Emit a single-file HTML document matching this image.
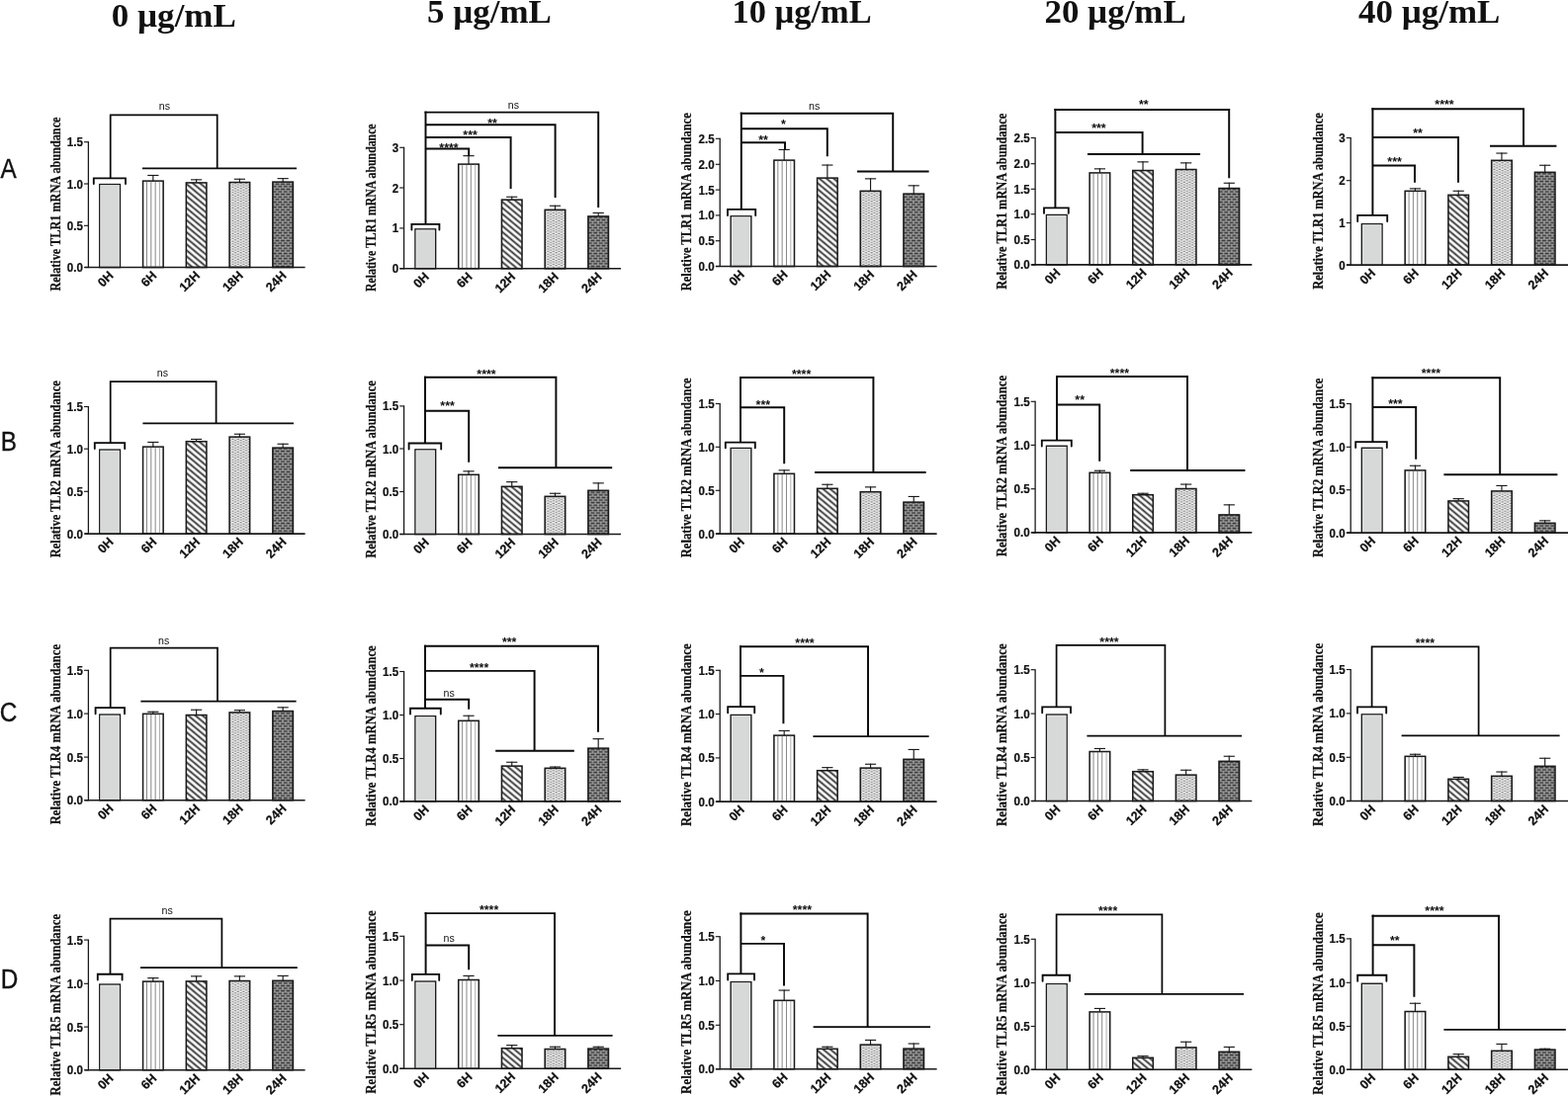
<!DOCTYPE html>
<html lang="en">
<head>
<meta charset="utf-8">
<title>Relative TLR mRNA abundance</title>
<style>
html,body{margin:0;padding:0;background:#fff;}
body{width:1586px;height:1109px;overflow:hidden;position:relative;}
svg{display:block;position:absolute;left:0;top:0;}
text{fill:#111;}
</style>
</head>
<body>
<svg width="1586" height="1109" viewBox="0 0 1586 1109">
<defs>
<pattern id="pd" patternUnits="userSpaceOnUse" width="12" height="4.67" patternTransform="rotate(40)">
<rect x="0" y="0" width="12" height="4.67" fill="#fff"/>
<rect x="0" y="1.5" width="12" height="1.8" fill="#2e2e2e"/>
</pattern>
<pattern id="pt" patternUnits="userSpaceOnUse" width="5.5" height="2.6">
<rect x="0" y="0" width="5.5" height="2.6" fill="#f1f1f1"/>
<rect x="0.45" y="0.2" width="2.2" height="0.95" fill="#6e6e6e"/>
<rect x="3.2" y="1.5" width="2.2" height="0.95" fill="#6e6e6e"/>
</pattern>
<pattern id="pb" patternUnits="userSpaceOnUse" width="5.5" height="5.2">
<rect x="0" y="0" width="5.5" height="5.2" fill="#e2e2e2"/>
<rect x="0.4" y="0.35" width="4.7" height="1.95" fill="#343434"/>
<rect x="0" y="2.95" width="2.35" height="1.95" fill="#343434"/>
<rect x="3.15" y="2.95" width="2.35" height="1.95" fill="#343434"/>
</pattern>
</defs>
<rect x="0" y="0" width="1586" height="1109" fill="#ffffff"/>

<text x="175.8" y="26.5" font-family='"Liberation Serif", serif' font-size="34.2" font-weight="bold" text-anchor="middle" textLength="126.2" lengthAdjust="spacingAndGlyphs">0 µg/mL</text>
<text x="494.95" y="23" font-family='"Liberation Serif", serif' font-size="34.2" font-weight="bold" text-anchor="middle" textLength="125.9" lengthAdjust="spacingAndGlyphs">5 µg/mL</text>
<text x="811.1" y="23.3" font-family='"Liberation Serif", serif' font-size="34.2" font-weight="bold" text-anchor="middle" textLength="141.2" lengthAdjust="spacingAndGlyphs">10 µg/mL</text>
<text x="1128.1" y="23.3" font-family='"Liberation Serif", serif' font-size="34.2" font-weight="bold" text-anchor="middle" textLength="143.2" lengthAdjust="spacingAndGlyphs">20 µg/mL</text>
<text x="1445.65" y="23.1" font-family='"Liberation Serif", serif' font-size="34.2" font-weight="bold" text-anchor="middle" textLength="143.3" lengthAdjust="spacingAndGlyphs">40 µg/mL</text>
<text transform="translate(0.6 179.9) scale(0.9 1)" font-family='"Liberation Sans", sans-serif' font-size="27" stroke="#111" stroke-width="0.35">A</text>
<text transform="translate(0.7 456) scale(0.9 1)" font-family='"Liberation Sans", sans-serif' font-size="27" stroke="#111" stroke-width="0.35">B</text>
<text transform="translate(-0.2 729.6) scale(0.9 1)" font-family='"Liberation Sans", sans-serif' font-size="27" stroke="#111" stroke-width="0.35">C</text>
<text transform="translate(0.7 1000.4) scale(0.9 1)" font-family='"Liberation Sans", sans-serif' font-size="27" stroke="#111" stroke-width="0.35">D</text>
<g transform="translate(0 0.3)">
<text transform="translate(60.6 206.2) rotate(-90)" font-family='"Liberation Serif", serif' font-size="14.3" font-weight="bold" text-anchor="middle" textLength="176" lengthAdjust="spacingAndGlyphs" stroke="#111" stroke-width="0.22">Relative TLR1 mRNA abundance</text>
<rect x="100.82" y="186.32" width="20.56" height="83.88" fill="#d7d9d8" stroke="#1a1a1a" stroke-width="1.55"/>
<rect x="101.8" y="187.3" width="18.6" height="82.3" fill="none" stroke="#f0f0f0" stroke-width="0.7"/>
<line x1="154.86" y1="176.6" x2="154.86" y2="182.7" stroke="#1a1a1a" stroke-width="1.15" stroke-linecap="butt"/>
<line x1="149.26" y1="177.15" x2="160.46" y2="177.15" stroke="#1a1a1a" stroke-width="1.15" stroke-linecap="butt"/>
<rect x="144.58" y="182.82" width="20.56" height="87.38" fill="url(#pv)" stroke="#1a1a1a" stroke-width="1.55"/>
<line x1="148.51" y1="183.4" x2="148.51" y2="269.6" stroke="#686868" stroke-width="0.8" stroke-linecap="butt"/>
<line x1="152.81" y1="183.4" x2="152.81" y2="269.6" stroke="#686868" stroke-width="0.8" stroke-linecap="butt"/>
<line x1="157.16" y1="183.4" x2="157.16" y2="269.6" stroke="#686868" stroke-width="0.8" stroke-linecap="butt"/>
<line x1="161.51" y1="183.4" x2="161.51" y2="269.6" stroke="#9a9a9a" stroke-width="0.8" stroke-linecap="butt"/>
<line x1="198.62" y1="181" x2="198.62" y2="184.5" stroke="#1a1a1a" stroke-width="1.15" stroke-linecap="butt"/>
<line x1="193.02" y1="181.55" x2="204.22" y2="181.55" stroke="#1a1a1a" stroke-width="1.15" stroke-linecap="butt"/>
<rect x="188.34" y="184.62" width="20.56" height="85.58" fill="url(#pd)" stroke="#1a1a1a" stroke-width="1.55"/>
<line x1="242.38" y1="180.4" x2="242.38" y2="184.1" stroke="#1a1a1a" stroke-width="1.15" stroke-linecap="butt"/>
<line x1="236.78" y1="180.95" x2="247.98" y2="180.95" stroke="#1a1a1a" stroke-width="1.15" stroke-linecap="butt"/>
<rect x="232.1" y="184.22" width="20.56" height="85.98" fill="url(#pt)" stroke="#1a1a1a" stroke-width="1.55"/>
<line x1="286.14" y1="179.8" x2="286.14" y2="183.7" stroke="#1a1a1a" stroke-width="1.15" stroke-linecap="butt"/>
<line x1="280.54" y1="180.35" x2="291.74" y2="180.35" stroke="#1a1a1a" stroke-width="1.15" stroke-linecap="butt"/>
<rect x="275.86" y="183.82" width="20.56" height="86.38" fill="url(#pb)" stroke="#1a1a1a" stroke-width="1.55"/>
<line x1="85.6" y1="270.2" x2="308.6" y2="270.2" stroke="#1a1a1a" stroke-width="1.6" stroke-linecap="butt"/>
<line x1="89.4" y1="142.85" x2="89.4" y2="270.8" stroke="#1a1a1a" stroke-width="1.3" stroke-linecap="butt"/>
<line x1="85" y1="143.4" x2="89.4" y2="143.4" stroke="#1a1a1a" stroke-width="1.15" stroke-linecap="butt"/>
<text transform="translate(83.9 147.9) scale(0.935 1)" font-family='"Liberation Sans", sans-serif' font-size="12.4" font-weight="bold" text-anchor="end" stroke="#111" stroke-width="0.2">1.5</text>
<line x1="85" y1="185.7" x2="89.4" y2="185.7" stroke="#1a1a1a" stroke-width="1.15" stroke-linecap="butt"/>
<text transform="translate(83.9 190.2) scale(0.935 1)" font-family='"Liberation Sans", sans-serif' font-size="12.4" font-weight="bold" text-anchor="end" stroke="#111" stroke-width="0.2">1.0</text>
<line x1="85" y1="228" x2="89.4" y2="228" stroke="#1a1a1a" stroke-width="1.15" stroke-linecap="butt"/>
<text transform="translate(83.9 232.5) scale(0.935 1)" font-family='"Liberation Sans", sans-serif' font-size="12.4" font-weight="bold" text-anchor="end" stroke="#111" stroke-width="0.2">0.5</text>
<line x1="85" y1="270.2" x2="89.4" y2="270.2" stroke="#1a1a1a" stroke-width="1.15" stroke-linecap="butt"/>
<text transform="translate(83.9 274.7) scale(0.935 1)" font-family='"Liberation Sans", sans-serif' font-size="12.4" font-weight="bold" text-anchor="end" stroke="#111" stroke-width="0.2">0.0</text>
<text transform="translate(115.4 279.2) rotate(-45)" font-family='"Liberation Sans", sans-serif' font-size="12.6" font-weight="bold" text-anchor="end" stroke="#111" stroke-width="0.25">0H</text>
<text transform="translate(159.16 279.2) rotate(-45)" font-family='"Liberation Sans", sans-serif' font-size="12.6" font-weight="bold" text-anchor="end" stroke="#111" stroke-width="0.25">6H</text>
<text transform="translate(202.92 279.2) rotate(-45)" font-family='"Liberation Sans", sans-serif' font-size="12.6" font-weight="bold" text-anchor="end" stroke="#111" stroke-width="0.25">12H</text>
<text transform="translate(246.68 279.2) rotate(-45)" font-family='"Liberation Sans", sans-serif' font-size="12.6" font-weight="bold" text-anchor="end" stroke="#111" stroke-width="0.25">18H</text>
<text transform="translate(290.44 279.2) rotate(-45)" font-family='"Liberation Sans", sans-serif' font-size="12.6" font-weight="bold" text-anchor="end" stroke="#111" stroke-width="0.25">24H</text>
<polyline points="94.8,185.8 94.8,180.1 127,180.1 127,185.8" fill="none" stroke="#0a0a0a" stroke-width="1.85" stroke-linecap="round" stroke-linejoin="miter"/>
<polyline points="111.7,180.1 111.7,116 219.7,116 219.7,170" fill="none" stroke="#0a0a0a" stroke-width="1.75" stroke-linecap="butt" stroke-linejoin="miter"/>
<polyline points="144,170 300,170" fill="none" stroke="#0a0a0a" stroke-width="1.75" stroke-linecap="butt" stroke-linejoin="miter"/>
<text x="166.4" y="110.6" font-family='"Liberation Sans", sans-serif' font-size="10.6" font-weight="normal" text-anchor="middle" fill="#333">ns</text>
</g>
<g transform="translate(0 0.3)">
<text transform="translate(379.9 209.9) rotate(-90)" font-family='"Liberation Serif", serif' font-size="14.3" font-weight="bold" text-anchor="middle" textLength="169.6" lengthAdjust="spacingAndGlyphs" stroke="#111" stroke-width="0.22">Relative TLR1 mRNA abundance</text>
<rect x="420.02" y="231.62" width="20.56" height="39.78" fill="#d7d9d8" stroke="#1a1a1a" stroke-width="1.55"/>
<rect x="421" y="232.6" width="18.6" height="38.2" fill="none" stroke="#f0f0f0" stroke-width="0.7"/>
<line x1="474.02" y1="156.8" x2="474.02" y2="165.7" stroke="#1a1a1a" stroke-width="1.15" stroke-linecap="butt"/>
<line x1="468.42" y1="157.35" x2="479.62" y2="157.35" stroke="#1a1a1a" stroke-width="1.15" stroke-linecap="butt"/>
<rect x="463.74" y="165.82" width="20.56" height="105.58" fill="url(#pv)" stroke="#1a1a1a" stroke-width="1.55"/>
<line x1="467.67" y1="166.4" x2="467.67" y2="270.8" stroke="#686868" stroke-width="0.8" stroke-linecap="butt"/>
<line x1="471.97" y1="166.4" x2="471.97" y2="270.8" stroke="#686868" stroke-width="0.8" stroke-linecap="butt"/>
<line x1="476.32" y1="166.4" x2="476.32" y2="270.8" stroke="#686868" stroke-width="0.8" stroke-linecap="butt"/>
<line x1="480.67" y1="166.4" x2="480.67" y2="270.8" stroke="#9a9a9a" stroke-width="0.8" stroke-linecap="butt"/>
<line x1="517.74" y1="198.4" x2="517.74" y2="201.7" stroke="#1a1a1a" stroke-width="1.15" stroke-linecap="butt"/>
<line x1="512.14" y1="198.95" x2="523.34" y2="198.95" stroke="#1a1a1a" stroke-width="1.15" stroke-linecap="butt"/>
<rect x="507.46" y="201.82" width="20.56" height="69.58" fill="url(#pd)" stroke="#1a1a1a" stroke-width="1.55"/>
<line x1="561.46" y1="207.4" x2="561.46" y2="211.9" stroke="#1a1a1a" stroke-width="1.15" stroke-linecap="butt"/>
<line x1="555.86" y1="207.95" x2="567.06" y2="207.95" stroke="#1a1a1a" stroke-width="1.15" stroke-linecap="butt"/>
<rect x="551.18" y="212.02" width="20.56" height="59.38" fill="url(#pt)" stroke="#1a1a1a" stroke-width="1.55"/>
<line x1="605.18" y1="214.6" x2="605.18" y2="218.5" stroke="#1a1a1a" stroke-width="1.15" stroke-linecap="butt"/>
<line x1="599.58" y1="215.15" x2="610.78" y2="215.15" stroke="#1a1a1a" stroke-width="1.15" stroke-linecap="butt"/>
<rect x="594.9" y="218.62" width="20.56" height="52.78" fill="url(#pb)" stroke="#1a1a1a" stroke-width="1.55"/>
<line x1="404.4" y1="271.4" x2="628" y2="271.4" stroke="#1a1a1a" stroke-width="1.6" stroke-linecap="butt"/>
<line x1="408.6" y1="148.45" x2="408.6" y2="272" stroke="#1a1a1a" stroke-width="1.3" stroke-linecap="butt"/>
<line x1="404.2" y1="149" x2="408.6" y2="149" stroke="#1a1a1a" stroke-width="1.15" stroke-linecap="butt"/>
<text transform="translate(403.1 153.5) scale(0.935 1)" font-family='"Liberation Sans", sans-serif' font-size="12.4" font-weight="bold" text-anchor="end" stroke="#111" stroke-width="0.2">3</text>
<line x1="404.2" y1="189.7" x2="408.6" y2="189.7" stroke="#1a1a1a" stroke-width="1.15" stroke-linecap="butt"/>
<text transform="translate(403.1 194.2) scale(0.935 1)" font-family='"Liberation Sans", sans-serif' font-size="12.4" font-weight="bold" text-anchor="end" stroke="#111" stroke-width="0.2">2</text>
<line x1="404.2" y1="230.6" x2="408.6" y2="230.6" stroke="#1a1a1a" stroke-width="1.15" stroke-linecap="butt"/>
<text transform="translate(403.1 235.1) scale(0.935 1)" font-family='"Liberation Sans", sans-serif' font-size="12.4" font-weight="bold" text-anchor="end" stroke="#111" stroke-width="0.2">1</text>
<line x1="404.2" y1="271.4" x2="408.6" y2="271.4" stroke="#1a1a1a" stroke-width="1.15" stroke-linecap="butt"/>
<text transform="translate(403.1 275.9) scale(0.935 1)" font-family='"Liberation Sans", sans-serif' font-size="12.4" font-weight="bold" text-anchor="end" stroke="#111" stroke-width="0.2">0</text>
<text transform="translate(434.6 280.4) rotate(-45)" font-family='"Liberation Sans", sans-serif' font-size="12.6" font-weight="bold" text-anchor="end" stroke="#111" stroke-width="0.25">0H</text>
<text transform="translate(478.32 280.4) rotate(-45)" font-family='"Liberation Sans", sans-serif' font-size="12.6" font-weight="bold" text-anchor="end" stroke="#111" stroke-width="0.25">6H</text>
<text transform="translate(522.04 280.4) rotate(-45)" font-family='"Liberation Sans", sans-serif' font-size="12.6" font-weight="bold" text-anchor="end" stroke="#111" stroke-width="0.25">12H</text>
<text transform="translate(565.76 280.4) rotate(-45)" font-family='"Liberation Sans", sans-serif' font-size="12.6" font-weight="bold" text-anchor="end" stroke="#111" stroke-width="0.25">18H</text>
<text transform="translate(609.48 280.4) rotate(-45)" font-family='"Liberation Sans", sans-serif' font-size="12.6" font-weight="bold" text-anchor="end" stroke="#111" stroke-width="0.25">24H</text>
<polyline points="416.4,232.2 416.4,226.6 444.4,226.6 444.4,232.2" fill="none" stroke="#0a0a0a" stroke-width="1.85" stroke-linecap="round" stroke-linejoin="miter"/>
<polyline points="430.5,226.6 430.5,112.3" fill="none" stroke="#0a0a0a" stroke-width="1.95" stroke-linecap="butt" stroke-linejoin="miter"/>
<polyline points="429.5,113.3 605.2,113.3 605.2,209.6" fill="none" stroke="#0a0a0a" stroke-width="1.95" stroke-linecap="butt" stroke-linejoin="miter"/>
<polyline points="430.5,126 561.6,126 561.6,199.6" fill="none" stroke="#0a0a0a" stroke-width="1.95" stroke-linecap="butt" stroke-linejoin="miter"/>
<polyline points="430.5,138.6 516.6,138.6 516.6,190.6" fill="none" stroke="#0a0a0a" stroke-width="1.95" stroke-linecap="butt" stroke-linejoin="miter"/>
<polyline points="430.5,150.2 474.2,150.2 474.2,157.5" fill="none" stroke="#0a0a0a" stroke-width="1.95" stroke-linecap="butt" stroke-linejoin="miter"/>
<text x="519.4" y="110" font-family='"Liberation Sans", sans-serif' font-size="10.6" font-weight="normal" text-anchor="middle" fill="#333">ns</text>
<text x="498" y="128.3" font-family='"Liberation Sans", sans-serif' font-size="12.4" font-weight="bold" text-anchor="middle" fill="#1a1a1a">**</text>
<text x="475.6" y="140.3" font-family='"Liberation Sans", sans-serif' font-size="12.4" font-weight="bold" text-anchor="middle" fill="#1a1a1a">***</text>
<text x="454" y="153.9" font-family='"Liberation Sans", sans-serif' font-size="12.4" font-weight="bold" text-anchor="middle" fill="#1a1a1a">****</text>
</g>
<g transform="translate(0 0.3)">
<text transform="translate(699.2 204) rotate(-90)" font-family='"Liberation Serif", serif' font-size="14.3" font-weight="bold" text-anchor="middle" textLength="180" lengthAdjust="spacingAndGlyphs" stroke="#111" stroke-width="0.22">Relative TLR1 mRNA abundance</text>
<rect x="739.22" y="218.52" width="20.56" height="50.68" fill="#d7d9d8" stroke="#1a1a1a" stroke-width="1.55"/>
<rect x="740.2" y="219.5" width="18.6" height="49.1" fill="none" stroke="#f0f0f0" stroke-width="0.7"/>
<line x1="793.18" y1="150.6" x2="793.18" y2="161.7" stroke="#1a1a1a" stroke-width="1.15" stroke-linecap="butt"/>
<line x1="787.58" y1="151.15" x2="798.78" y2="151.15" stroke="#1a1a1a" stroke-width="1.15" stroke-linecap="butt"/>
<rect x="782.9" y="161.82" width="20.56" height="107.38" fill="url(#pv)" stroke="#1a1a1a" stroke-width="1.55"/>
<line x1="786.83" y1="162.4" x2="786.83" y2="268.6" stroke="#686868" stroke-width="0.8" stroke-linecap="butt"/>
<line x1="791.13" y1="162.4" x2="791.13" y2="268.6" stroke="#686868" stroke-width="0.8" stroke-linecap="butt"/>
<line x1="795.48" y1="162.4" x2="795.48" y2="268.6" stroke="#686868" stroke-width="0.8" stroke-linecap="butt"/>
<line x1="799.83" y1="162.4" x2="799.83" y2="268.6" stroke="#9a9a9a" stroke-width="0.8" stroke-linecap="butt"/>
<line x1="836.86" y1="166.2" x2="836.86" y2="179.7" stroke="#1a1a1a" stroke-width="1.15" stroke-linecap="butt"/>
<line x1="831.26" y1="166.75" x2="842.46" y2="166.75" stroke="#1a1a1a" stroke-width="1.15" stroke-linecap="butt"/>
<rect x="826.58" y="179.82" width="20.56" height="89.38" fill="url(#pd)" stroke="#1a1a1a" stroke-width="1.55"/>
<line x1="880.54" y1="180" x2="880.54" y2="192.9" stroke="#1a1a1a" stroke-width="1.15" stroke-linecap="butt"/>
<line x1="874.94" y1="180.55" x2="886.14" y2="180.55" stroke="#1a1a1a" stroke-width="1.15" stroke-linecap="butt"/>
<rect x="870.26" y="193.02" width="20.56" height="76.18" fill="url(#pt)" stroke="#1a1a1a" stroke-width="1.55"/>
<line x1="924.22" y1="187" x2="924.22" y2="195.7" stroke="#1a1a1a" stroke-width="1.15" stroke-linecap="butt"/>
<line x1="918.62" y1="187.55" x2="929.82" y2="187.55" stroke="#1a1a1a" stroke-width="1.15" stroke-linecap="butt"/>
<rect x="913.94" y="195.82" width="20.56" height="73.38" fill="url(#pb)" stroke="#1a1a1a" stroke-width="1.55"/>
<line x1="724" y1="269.2" x2="947.6" y2="269.2" stroke="#1a1a1a" stroke-width="1.6" stroke-linecap="butt"/>
<line x1="728.2" y1="139.45" x2="728.2" y2="269.8" stroke="#1a1a1a" stroke-width="1.3" stroke-linecap="butt"/>
<line x1="723.8" y1="140" x2="728.2" y2="140" stroke="#1a1a1a" stroke-width="1.15" stroke-linecap="butt"/>
<text transform="translate(722.7 144.5) scale(0.935 1)" font-family='"Liberation Sans", sans-serif' font-size="12.4" font-weight="bold" text-anchor="end" stroke="#111" stroke-width="0.2">2.5</text>
<line x1="723.8" y1="166" x2="728.2" y2="166" stroke="#1a1a1a" stroke-width="1.15" stroke-linecap="butt"/>
<text transform="translate(722.7 170.5) scale(0.935 1)" font-family='"Liberation Sans", sans-serif' font-size="12.4" font-weight="bold" text-anchor="end" stroke="#111" stroke-width="0.2">2.0</text>
<line x1="723.8" y1="191.8" x2="728.2" y2="191.8" stroke="#1a1a1a" stroke-width="1.15" stroke-linecap="butt"/>
<text transform="translate(722.7 196.3) scale(0.935 1)" font-family='"Liberation Sans", sans-serif' font-size="12.4" font-weight="bold" text-anchor="end" stroke="#111" stroke-width="0.2">1.5</text>
<line x1="723.8" y1="217.6" x2="728.2" y2="217.6" stroke="#1a1a1a" stroke-width="1.15" stroke-linecap="butt"/>
<text transform="translate(722.7 222.1) scale(0.935 1)" font-family='"Liberation Sans", sans-serif' font-size="12.4" font-weight="bold" text-anchor="end" stroke="#111" stroke-width="0.2">1.0</text>
<line x1="723.8" y1="243.4" x2="728.2" y2="243.4" stroke="#1a1a1a" stroke-width="1.15" stroke-linecap="butt"/>
<text transform="translate(722.7 247.9) scale(0.935 1)" font-family='"Liberation Sans", sans-serif' font-size="12.4" font-weight="bold" text-anchor="end" stroke="#111" stroke-width="0.2">0.5</text>
<line x1="723.8" y1="269.2" x2="728.2" y2="269.2" stroke="#1a1a1a" stroke-width="1.15" stroke-linecap="butt"/>
<text transform="translate(722.7 273.7) scale(0.935 1)" font-family='"Liberation Sans", sans-serif' font-size="12.4" font-weight="bold" text-anchor="end" stroke="#111" stroke-width="0.2">0.0</text>
<text transform="translate(753.8 278.2) rotate(-45)" font-family='"Liberation Sans", sans-serif' font-size="12.6" font-weight="bold" text-anchor="end" stroke="#111" stroke-width="0.25">0H</text>
<text transform="translate(797.48 278.2) rotate(-45)" font-family='"Liberation Sans", sans-serif' font-size="12.6" font-weight="bold" text-anchor="end" stroke="#111" stroke-width="0.25">6H</text>
<text transform="translate(841.16 278.2) rotate(-45)" font-family='"Liberation Sans", sans-serif' font-size="12.6" font-weight="bold" text-anchor="end" stroke="#111" stroke-width="0.25">12H</text>
<text transform="translate(884.84 278.2) rotate(-45)" font-family='"Liberation Sans", sans-serif' font-size="12.6" font-weight="bold" text-anchor="end" stroke="#111" stroke-width="0.25">18H</text>
<text transform="translate(928.52 278.2) rotate(-45)" font-family='"Liberation Sans", sans-serif' font-size="12.6" font-weight="bold" text-anchor="end" stroke="#111" stroke-width="0.25">24H</text>
<polyline points="736,217.8 736,211.6 764.2,211.6 764.2,217.8" fill="none" stroke="#0a0a0a" stroke-width="1.85" stroke-linecap="round" stroke-linejoin="miter"/>
<polyline points="749.8,211.6 749.8,113.4" fill="none" stroke="#0a0a0a" stroke-width="1.95" stroke-linecap="butt" stroke-linejoin="miter"/>
<polyline points="748.8,114.4 903.2,114.4 903.2,173.2" fill="none" stroke="#0a0a0a" stroke-width="1.95" stroke-linecap="butt" stroke-linejoin="miter"/>
<polyline points="867,173.2 939.6,173.2" fill="none" stroke="#0a0a0a" stroke-width="1.95" stroke-linecap="butt" stroke-linejoin="miter"/>
<polyline points="749.8,130 836.8,130 836.8,158" fill="none" stroke="#0a0a0a" stroke-width="1.95" stroke-linecap="butt" stroke-linejoin="miter"/>
<polyline points="749.8,144 794,144 794,151.3" fill="none" stroke="#0a0a0a" stroke-width="1.95" stroke-linecap="butt" stroke-linejoin="miter"/>
<text x="823.6" y="110.6" font-family='"Liberation Sans", sans-serif' font-size="10.6" font-weight="normal" text-anchor="middle" fill="#333">ns</text>
<text x="792.4" y="130.1" font-family='"Liberation Sans", sans-serif' font-size="12.4" font-weight="bold" text-anchor="middle" fill="#1a1a1a">*</text>
<text x="772" y="145.3" font-family='"Liberation Sans", sans-serif' font-size="12.4" font-weight="bold" text-anchor="middle" fill="#1a1a1a">**</text>
</g>
<g transform="translate(0 0.3)">
<text transform="translate(1018.2 203.4) rotate(-90)" font-family='"Liberation Serif", serif' font-size="14.3" font-weight="bold" text-anchor="middle" textLength="178" lengthAdjust="spacingAndGlyphs" stroke="#111" stroke-width="0.22">Relative TLR1 mRNA abundance</text>
<rect x="1058.52" y="217.22" width="20.56" height="50.38" fill="#d7d9d8" stroke="#1a1a1a" stroke-width="1.55"/>
<rect x="1059.5" y="218.2" width="18.6" height="48.8" fill="none" stroke="#f0f0f0" stroke-width="0.7"/>
<line x1="1112.42" y1="170" x2="1112.42" y2="174.5" stroke="#1a1a1a" stroke-width="1.15" stroke-linecap="butt"/>
<line x1="1106.82" y1="170.55" x2="1118.02" y2="170.55" stroke="#1a1a1a" stroke-width="1.15" stroke-linecap="butt"/>
<rect x="1102.14" y="174.62" width="20.56" height="92.98" fill="url(#pv)" stroke="#1a1a1a" stroke-width="1.55"/>
<line x1="1106.07" y1="175.2" x2="1106.07" y2="267" stroke="#686868" stroke-width="0.8" stroke-linecap="butt"/>
<line x1="1110.37" y1="175.2" x2="1110.37" y2="267" stroke="#686868" stroke-width="0.8" stroke-linecap="butt"/>
<line x1="1114.72" y1="175.2" x2="1114.72" y2="267" stroke="#686868" stroke-width="0.8" stroke-linecap="butt"/>
<line x1="1119.07" y1="175.2" x2="1119.07" y2="267" stroke="#9a9a9a" stroke-width="0.8" stroke-linecap="butt"/>
<line x1="1156.04" y1="163" x2="1156.04" y2="172.1" stroke="#1a1a1a" stroke-width="1.15" stroke-linecap="butt"/>
<line x1="1150.44" y1="163.55" x2="1161.64" y2="163.55" stroke="#1a1a1a" stroke-width="1.15" stroke-linecap="butt"/>
<rect x="1145.76" y="172.22" width="20.56" height="95.38" fill="url(#pd)" stroke="#1a1a1a" stroke-width="1.55"/>
<line x1="1199.66" y1="164" x2="1199.66" y2="171.1" stroke="#1a1a1a" stroke-width="1.15" stroke-linecap="butt"/>
<line x1="1194.06" y1="164.55" x2="1205.26" y2="164.55" stroke="#1a1a1a" stroke-width="1.15" stroke-linecap="butt"/>
<rect x="1189.38" y="171.22" width="20.56" height="96.38" fill="url(#pt)" stroke="#1a1a1a" stroke-width="1.55"/>
<line x1="1243.28" y1="184.4" x2="1243.28" y2="190.1" stroke="#1a1a1a" stroke-width="1.15" stroke-linecap="butt"/>
<line x1="1237.68" y1="184.95" x2="1248.88" y2="184.95" stroke="#1a1a1a" stroke-width="1.15" stroke-linecap="butt"/>
<rect x="1233" y="190.22" width="20.56" height="77.38" fill="url(#pb)" stroke="#1a1a1a" stroke-width="1.55"/>
<line x1="1043.2" y1="267.6" x2="1266.3" y2="267.6" stroke="#1a1a1a" stroke-width="1.6" stroke-linecap="butt"/>
<line x1="1047.1" y1="138.65" x2="1047.1" y2="268.2" stroke="#1a1a1a" stroke-width="1.3" stroke-linecap="butt"/>
<line x1="1042.7" y1="139.2" x2="1047.1" y2="139.2" stroke="#1a1a1a" stroke-width="1.15" stroke-linecap="butt"/>
<text transform="translate(1041.6 143.7) scale(0.935 1)" font-family='"Liberation Sans", sans-serif' font-size="12.4" font-weight="bold" text-anchor="end" stroke="#111" stroke-width="0.2">2.5</text>
<line x1="1042.7" y1="165.4" x2="1047.1" y2="165.4" stroke="#1a1a1a" stroke-width="1.15" stroke-linecap="butt"/>
<text transform="translate(1041.6 169.9) scale(0.935 1)" font-family='"Liberation Sans", sans-serif' font-size="12.4" font-weight="bold" text-anchor="end" stroke="#111" stroke-width="0.2">2.0</text>
<line x1="1042.7" y1="191" x2="1047.1" y2="191" stroke="#1a1a1a" stroke-width="1.15" stroke-linecap="butt"/>
<text transform="translate(1041.6 195.5) scale(0.935 1)" font-family='"Liberation Sans", sans-serif' font-size="12.4" font-weight="bold" text-anchor="end" stroke="#111" stroke-width="0.2">1.5</text>
<line x1="1042.7" y1="216.4" x2="1047.1" y2="216.4" stroke="#1a1a1a" stroke-width="1.15" stroke-linecap="butt"/>
<text transform="translate(1041.6 220.9) scale(0.935 1)" font-family='"Liberation Sans", sans-serif' font-size="12.4" font-weight="bold" text-anchor="end" stroke="#111" stroke-width="0.2">1.0</text>
<line x1="1042.7" y1="242.2" x2="1047.1" y2="242.2" stroke="#1a1a1a" stroke-width="1.15" stroke-linecap="butt"/>
<text transform="translate(1041.6 246.7) scale(0.935 1)" font-family='"Liberation Sans", sans-serif' font-size="12.4" font-weight="bold" text-anchor="end" stroke="#111" stroke-width="0.2">0.5</text>
<line x1="1042.7" y1="267.6" x2="1047.1" y2="267.6" stroke="#1a1a1a" stroke-width="1.15" stroke-linecap="butt"/>
<text transform="translate(1041.6 272.1) scale(0.935 1)" font-family='"Liberation Sans", sans-serif' font-size="12.4" font-weight="bold" text-anchor="end" stroke="#111" stroke-width="0.2">0.0</text>
<text transform="translate(1073.1 276.6) rotate(-45)" font-family='"Liberation Sans", sans-serif' font-size="12.6" font-weight="bold" text-anchor="end" stroke="#111" stroke-width="0.25">0H</text>
<text transform="translate(1116.72 276.6) rotate(-45)" font-family='"Liberation Sans", sans-serif' font-size="12.6" font-weight="bold" text-anchor="end" stroke="#111" stroke-width="0.25">6H</text>
<text transform="translate(1160.34 276.6) rotate(-45)" font-family='"Liberation Sans", sans-serif' font-size="12.6" font-weight="bold" text-anchor="end" stroke="#111" stroke-width="0.25">12H</text>
<text transform="translate(1203.96 276.6) rotate(-45)" font-family='"Liberation Sans", sans-serif' font-size="12.6" font-weight="bold" text-anchor="end" stroke="#111" stroke-width="0.25">18H</text>
<text transform="translate(1247.58 276.6) rotate(-45)" font-family='"Liberation Sans", sans-serif' font-size="12.6" font-weight="bold" text-anchor="end" stroke="#111" stroke-width="0.25">24H</text>
<polyline points="1056,215.4 1056,210 1080.8,210 1080.8,215.4" fill="none" stroke="#0a0a0a" stroke-width="1.85" stroke-linecap="round" stroke-linejoin="miter"/>
<polyline points="1067.4,210 1067.4,109.6" fill="none" stroke="#0a0a0a" stroke-width="1.95" stroke-linecap="butt" stroke-linejoin="miter"/>
<polyline points="1066.4,110.6 1243.2,110.6 1243.2,180" fill="none" stroke="#0a0a0a" stroke-width="1.95" stroke-linecap="butt" stroke-linejoin="miter"/>
<polyline points="1067.4,133.6 1155.6,133.6 1155.6,155.6" fill="none" stroke="#0a0a0a" stroke-width="1.95" stroke-linecap="butt" stroke-linejoin="miter"/>
<polyline points="1100,155.6 1214,155.6" fill="none" stroke="#0a0a0a" stroke-width="1.95" stroke-linecap="butt" stroke-linejoin="miter"/>
<text x="1156.8" y="109.9" font-family='"Liberation Sans", sans-serif' font-size="12.4" font-weight="bold" text-anchor="middle" fill="#1a1a1a">**</text>
<text x="1111.4" y="133.9" font-family='"Liberation Sans", sans-serif' font-size="12.4" font-weight="bold" text-anchor="middle" fill="#1a1a1a">***</text>
</g>
<g transform="translate(0 0.3)">
<text transform="translate(1337.6 203.2) rotate(-90)" font-family='"Liberation Serif", serif' font-size="14.3" font-weight="bold" text-anchor="middle" textLength="178.4" lengthAdjust="spacingAndGlyphs" stroke="#111" stroke-width="0.22">Relative TLR1 mRNA abundance</text>
<rect x="1377.42" y="226.42" width="20.56" height="41.38" fill="#d7d9d8" stroke="#1a1a1a" stroke-width="1.55"/>
<rect x="1378.4" y="227.4" width="18.6" height="39.8" fill="none" stroke="#f0f0f0" stroke-width="0.7"/>
<line x1="1431.45" y1="190" x2="1431.45" y2="192.9" stroke="#1a1a1a" stroke-width="1.15" stroke-linecap="butt"/>
<line x1="1425.85" y1="190.55" x2="1437.05" y2="190.55" stroke="#1a1a1a" stroke-width="1.15" stroke-linecap="butt"/>
<rect x="1421.17" y="193.02" width="20.56" height="74.78" fill="url(#pv)" stroke="#1a1a1a" stroke-width="1.55"/>
<line x1="1425.1" y1="193.6" x2="1425.1" y2="267.2" stroke="#686868" stroke-width="0.8" stroke-linecap="butt"/>
<line x1="1429.4" y1="193.6" x2="1429.4" y2="267.2" stroke="#686868" stroke-width="0.8" stroke-linecap="butt"/>
<line x1="1433.75" y1="193.6" x2="1433.75" y2="267.2" stroke="#686868" stroke-width="0.8" stroke-linecap="butt"/>
<line x1="1438.1" y1="193.6" x2="1438.1" y2="267.2" stroke="#9a9a9a" stroke-width="0.8" stroke-linecap="butt"/>
<line x1="1475.2" y1="192.4" x2="1475.2" y2="196.9" stroke="#1a1a1a" stroke-width="1.15" stroke-linecap="butt"/>
<line x1="1469.6" y1="192.95" x2="1480.8" y2="192.95" stroke="#1a1a1a" stroke-width="1.15" stroke-linecap="butt"/>
<rect x="1464.92" y="197.02" width="20.56" height="70.78" fill="url(#pd)" stroke="#1a1a1a" stroke-width="1.55"/>
<line x1="1518.95" y1="154.2" x2="1518.95" y2="161.9" stroke="#1a1a1a" stroke-width="1.15" stroke-linecap="butt"/>
<line x1="1513.35" y1="154.75" x2="1524.55" y2="154.75" stroke="#1a1a1a" stroke-width="1.15" stroke-linecap="butt"/>
<rect x="1508.67" y="162.02" width="20.56" height="105.78" fill="url(#pt)" stroke="#1a1a1a" stroke-width="1.55"/>
<line x1="1562.7" y1="166.4" x2="1562.7" y2="173.9" stroke="#1a1a1a" stroke-width="1.15" stroke-linecap="butt"/>
<line x1="1557.1" y1="166.95" x2="1568.3" y2="166.95" stroke="#1a1a1a" stroke-width="1.15" stroke-linecap="butt"/>
<rect x="1552.42" y="174.02" width="20.56" height="93.78" fill="url(#pb)" stroke="#1a1a1a" stroke-width="1.55"/>
<line x1="1362" y1="267.8" x2="1586.5" y2="267.8" stroke="#1a1a1a" stroke-width="1.6" stroke-linecap="butt"/>
<line x1="1366.2" y1="138.65" x2="1366.2" y2="268.4" stroke="#1a1a1a" stroke-width="1.3" stroke-linecap="butt"/>
<line x1="1361.8" y1="139.2" x2="1366.2" y2="139.2" stroke="#1a1a1a" stroke-width="1.15" stroke-linecap="butt"/>
<text transform="translate(1360.7 143.7) scale(0.935 1)" font-family='"Liberation Sans", sans-serif' font-size="12.4" font-weight="bold" text-anchor="end" stroke="#111" stroke-width="0.2">3</text>
<line x1="1361.8" y1="182.4" x2="1366.2" y2="182.4" stroke="#1a1a1a" stroke-width="1.15" stroke-linecap="butt"/>
<text transform="translate(1360.7 186.9) scale(0.935 1)" font-family='"Liberation Sans", sans-serif' font-size="12.4" font-weight="bold" text-anchor="end" stroke="#111" stroke-width="0.2">2</text>
<line x1="1361.8" y1="225.2" x2="1366.2" y2="225.2" stroke="#1a1a1a" stroke-width="1.15" stroke-linecap="butt"/>
<text transform="translate(1360.7 229.7) scale(0.935 1)" font-family='"Liberation Sans", sans-serif' font-size="12.4" font-weight="bold" text-anchor="end" stroke="#111" stroke-width="0.2">1</text>
<line x1="1361.8" y1="267.8" x2="1366.2" y2="267.8" stroke="#1a1a1a" stroke-width="1.15" stroke-linecap="butt"/>
<text transform="translate(1360.7 272.3) scale(0.935 1)" font-family='"Liberation Sans", sans-serif' font-size="12.4" font-weight="bold" text-anchor="end" stroke="#111" stroke-width="0.2">0</text>
<text transform="translate(1392 276.8) rotate(-45)" font-family='"Liberation Sans", sans-serif' font-size="12.6" font-weight="bold" text-anchor="end" stroke="#111" stroke-width="0.25">0H</text>
<text transform="translate(1435.75 276.8) rotate(-45)" font-family='"Liberation Sans", sans-serif' font-size="12.6" font-weight="bold" text-anchor="end" stroke="#111" stroke-width="0.25">6H</text>
<text transform="translate(1479.5 276.8) rotate(-45)" font-family='"Liberation Sans", sans-serif' font-size="12.6" font-weight="bold" text-anchor="end" stroke="#111" stroke-width="0.25">12H</text>
<text transform="translate(1523.25 276.8) rotate(-45)" font-family='"Liberation Sans", sans-serif' font-size="12.6" font-weight="bold" text-anchor="end" stroke="#111" stroke-width="0.25">18H</text>
<text transform="translate(1567 276.8) rotate(-45)" font-family='"Liberation Sans", sans-serif' font-size="12.6" font-weight="bold" text-anchor="end" stroke="#111" stroke-width="0.25">24H</text>
<polyline points="1373.2,223.8 1373.2,217.6 1403.2,217.6 1403.2,223.8" fill="none" stroke="#0a0a0a" stroke-width="1.85" stroke-linecap="round" stroke-linejoin="miter"/>
<polyline points="1388.4,217.6 1388.4,109" fill="none" stroke="#0a0a0a" stroke-width="1.95" stroke-linecap="butt" stroke-linejoin="miter"/>
<polyline points="1387.4,110 1541,110 1541,147.4" fill="none" stroke="#0a0a0a" stroke-width="1.95" stroke-linecap="butt" stroke-linejoin="miter"/>
<polyline points="1507,147.4 1574.4,147.4" fill="none" stroke="#0a0a0a" stroke-width="1.95" stroke-linecap="butt" stroke-linejoin="miter"/>
<polyline points="1388.4,138.6 1475,138.6 1475,184.4" fill="none" stroke="#0a0a0a" stroke-width="1.95" stroke-linecap="butt" stroke-linejoin="miter"/>
<polyline points="1388.4,167.2 1431,167.2 1431,184.4" fill="none" stroke="#0a0a0a" stroke-width="1.95" stroke-linecap="butt" stroke-linejoin="miter"/>
<text x="1461" y="109.9" font-family='"Liberation Sans", sans-serif' font-size="12.4" font-weight="bold" text-anchor="middle" fill="#1a1a1a">****</text>
<text x="1434" y="138.7" font-family='"Liberation Sans", sans-serif' font-size="12.4" font-weight="bold" text-anchor="middle" fill="#1a1a1a">**</text>
<text x="1410.6" y="167.7" font-family='"Liberation Sans", sans-serif' font-size="12.4" font-weight="bold" text-anchor="middle" fill="#1a1a1a">***</text>
</g>
<g transform="translate(0 0.3)">
<text transform="translate(60.6 474.5) rotate(-90)" font-family='"Liberation Serif", serif' font-size="14.3" font-weight="bold" text-anchor="middle" textLength="179" lengthAdjust="spacingAndGlyphs" stroke="#111" stroke-width="0.22">Relative TLR2 mRNA abundance</text>
<rect x="100.82" y="454.82" width="20.56" height="84.98" fill="#d7d9d8" stroke="#1a1a1a" stroke-width="1.55"/>
<rect x="101.8" y="455.8" width="18.6" height="83.4" fill="none" stroke="#f0f0f0" stroke-width="0.7"/>
<line x1="154.86" y1="446.6" x2="154.86" y2="451.7" stroke="#1a1a1a" stroke-width="1.15" stroke-linecap="butt"/>
<line x1="149.26" y1="447.15" x2="160.46" y2="447.15" stroke="#1a1a1a" stroke-width="1.15" stroke-linecap="butt"/>
<rect x="144.58" y="451.82" width="20.56" height="87.98" fill="url(#pv)" stroke="#1a1a1a" stroke-width="1.55"/>
<line x1="148.51" y1="452.4" x2="148.51" y2="539.2" stroke="#686868" stroke-width="0.8" stroke-linecap="butt"/>
<line x1="152.81" y1="452.4" x2="152.81" y2="539.2" stroke="#686868" stroke-width="0.8" stroke-linecap="butt"/>
<line x1="157.16" y1="452.4" x2="157.16" y2="539.2" stroke="#686868" stroke-width="0.8" stroke-linecap="butt"/>
<line x1="161.51" y1="452.4" x2="161.51" y2="539.2" stroke="#9a9a9a" stroke-width="0.8" stroke-linecap="butt"/>
<line x1="198.62" y1="443.6" x2="198.62" y2="446.3" stroke="#1a1a1a" stroke-width="1.15" stroke-linecap="butt"/>
<line x1="193.02" y1="444.15" x2="204.22" y2="444.15" stroke="#1a1a1a" stroke-width="1.15" stroke-linecap="butt"/>
<rect x="188.34" y="446.42" width="20.56" height="93.38" fill="url(#pd)" stroke="#1a1a1a" stroke-width="1.55"/>
<line x1="242.38" y1="438.4" x2="242.38" y2="441.7" stroke="#1a1a1a" stroke-width="1.15" stroke-linecap="butt"/>
<line x1="236.78" y1="438.95" x2="247.98" y2="438.95" stroke="#1a1a1a" stroke-width="1.15" stroke-linecap="butt"/>
<rect x="232.1" y="441.82" width="20.56" height="97.98" fill="url(#pt)" stroke="#1a1a1a" stroke-width="1.55"/>
<line x1="286.14" y1="448.4" x2="286.14" y2="452.7" stroke="#1a1a1a" stroke-width="1.15" stroke-linecap="butt"/>
<line x1="280.54" y1="448.95" x2="291.74" y2="448.95" stroke="#1a1a1a" stroke-width="1.15" stroke-linecap="butt"/>
<rect x="275.86" y="452.82" width="20.56" height="86.98" fill="url(#pb)" stroke="#1a1a1a" stroke-width="1.55"/>
<line x1="85.6" y1="539.8" x2="308.6" y2="539.8" stroke="#1a1a1a" stroke-width="1.6" stroke-linecap="butt"/>
<line x1="89.4" y1="410.65" x2="89.4" y2="540.4" stroke="#1a1a1a" stroke-width="1.3" stroke-linecap="butt"/>
<line x1="85" y1="411.2" x2="89.4" y2="411.2" stroke="#1a1a1a" stroke-width="1.15" stroke-linecap="butt"/>
<text transform="translate(83.9 415.7) scale(0.935 1)" font-family='"Liberation Sans", sans-serif' font-size="12.4" font-weight="bold" text-anchor="end" stroke="#111" stroke-width="0.2">1.5</text>
<line x1="85" y1="453.9" x2="89.4" y2="453.9" stroke="#1a1a1a" stroke-width="1.15" stroke-linecap="butt"/>
<text transform="translate(83.9 458.4) scale(0.935 1)" font-family='"Liberation Sans", sans-serif' font-size="12.4" font-weight="bold" text-anchor="end" stroke="#111" stroke-width="0.2">1.0</text>
<line x1="85" y1="497" x2="89.4" y2="497" stroke="#1a1a1a" stroke-width="1.15" stroke-linecap="butt"/>
<text transform="translate(83.9 501.5) scale(0.935 1)" font-family='"Liberation Sans", sans-serif' font-size="12.4" font-weight="bold" text-anchor="end" stroke="#111" stroke-width="0.2">0.5</text>
<line x1="85" y1="539.8" x2="89.4" y2="539.8" stroke="#1a1a1a" stroke-width="1.15" stroke-linecap="butt"/>
<text transform="translate(83.9 544.3) scale(0.935 1)" font-family='"Liberation Sans", sans-serif' font-size="12.4" font-weight="bold" text-anchor="end" stroke="#111" stroke-width="0.2">0.0</text>
<text transform="translate(115.4 548.8) rotate(-45)" font-family='"Liberation Sans", sans-serif' font-size="12.6" font-weight="bold" text-anchor="end" stroke="#111" stroke-width="0.25">0H</text>
<text transform="translate(159.16 548.8) rotate(-45)" font-family='"Liberation Sans", sans-serif' font-size="12.6" font-weight="bold" text-anchor="end" stroke="#111" stroke-width="0.25">6H</text>
<text transform="translate(202.92 548.8) rotate(-45)" font-family='"Liberation Sans", sans-serif' font-size="12.6" font-weight="bold" text-anchor="end" stroke="#111" stroke-width="0.25">12H</text>
<text transform="translate(246.68 548.8) rotate(-45)" font-family='"Liberation Sans", sans-serif' font-size="12.6" font-weight="bold" text-anchor="end" stroke="#111" stroke-width="0.25">18H</text>
<text transform="translate(290.44 548.8) rotate(-45)" font-family='"Liberation Sans", sans-serif' font-size="12.6" font-weight="bold" text-anchor="end" stroke="#111" stroke-width="0.25">24H</text>
<polyline points="95.8,453.8 95.8,447.8 126.2,447.8 126.2,453.8" fill="none" stroke="#0a0a0a" stroke-width="1.85" stroke-linecap="round" stroke-linejoin="miter"/>
<polyline points="111.7,447.8 111.7,385.8 218.6,385.8 218.6,428" fill="none" stroke="#0a0a0a" stroke-width="1.75" stroke-linecap="butt" stroke-linejoin="miter"/>
<polyline points="144.4,428 297,428" fill="none" stroke="#0a0a0a" stroke-width="1.75" stroke-linecap="butt" stroke-linejoin="miter"/>
<text x="164.4" y="381" font-family='"Liberation Sans", sans-serif' font-size="10.6" font-weight="normal" text-anchor="middle" fill="#333">ns</text>
</g>
<g transform="translate(0 0.3)">
<text transform="translate(379.9 474.7) rotate(-90)" font-family='"Liberation Serif", serif' font-size="14.3" font-weight="bold" text-anchor="middle" textLength="179.4" lengthAdjust="spacingAndGlyphs" stroke="#111" stroke-width="0.22">Relative TLR2 mRNA abundance</text>
<rect x="420.02" y="454.62" width="20.56" height="85.58" fill="#d7d9d8" stroke="#1a1a1a" stroke-width="1.55"/>
<rect x="421" y="455.6" width="18.6" height="84" fill="none" stroke="#f0f0f0" stroke-width="0.7"/>
<line x1="474.02" y1="476" x2="474.02" y2="479.9" stroke="#1a1a1a" stroke-width="1.15" stroke-linecap="butt"/>
<line x1="468.42" y1="476.55" x2="479.62" y2="476.55" stroke="#1a1a1a" stroke-width="1.15" stroke-linecap="butt"/>
<rect x="463.74" y="480.02" width="20.56" height="60.18" fill="url(#pv)" stroke="#1a1a1a" stroke-width="1.55"/>
<line x1="467.67" y1="480.6" x2="467.67" y2="539.6" stroke="#686868" stroke-width="0.8" stroke-linecap="butt"/>
<line x1="471.97" y1="480.6" x2="471.97" y2="539.6" stroke="#686868" stroke-width="0.8" stroke-linecap="butt"/>
<line x1="476.32" y1="480.6" x2="476.32" y2="539.6" stroke="#686868" stroke-width="0.8" stroke-linecap="butt"/>
<line x1="480.67" y1="480.6" x2="480.67" y2="539.6" stroke="#9a9a9a" stroke-width="0.8" stroke-linecap="butt"/>
<line x1="517.74" y1="486.8" x2="517.74" y2="491.9" stroke="#1a1a1a" stroke-width="1.15" stroke-linecap="butt"/>
<line x1="512.14" y1="487.35" x2="523.34" y2="487.35" stroke="#1a1a1a" stroke-width="1.15" stroke-linecap="butt"/>
<rect x="507.46" y="492.02" width="20.56" height="48.18" fill="url(#pd)" stroke="#1a1a1a" stroke-width="1.55"/>
<line x1="561.46" y1="498.4" x2="561.46" y2="501.9" stroke="#1a1a1a" stroke-width="1.15" stroke-linecap="butt"/>
<line x1="555.86" y1="498.95" x2="567.06" y2="498.95" stroke="#1a1a1a" stroke-width="1.15" stroke-linecap="butt"/>
<rect x="551.18" y="502.02" width="20.56" height="38.18" fill="url(#pt)" stroke="#1a1a1a" stroke-width="1.55"/>
<line x1="605.18" y1="488" x2="605.18" y2="495.9" stroke="#1a1a1a" stroke-width="1.15" stroke-linecap="butt"/>
<line x1="599.58" y1="488.55" x2="610.78" y2="488.55" stroke="#1a1a1a" stroke-width="1.15" stroke-linecap="butt"/>
<rect x="594.9" y="496.02" width="20.56" height="44.18" fill="url(#pb)" stroke="#1a1a1a" stroke-width="1.55"/>
<line x1="404.4" y1="540.2" x2="628" y2="540.2" stroke="#1a1a1a" stroke-width="1.6" stroke-linecap="butt"/>
<line x1="408.6" y1="410.05" x2="408.6" y2="540.8" stroke="#1a1a1a" stroke-width="1.3" stroke-linecap="butt"/>
<line x1="404.2" y1="410.6" x2="408.6" y2="410.6" stroke="#1a1a1a" stroke-width="1.15" stroke-linecap="butt"/>
<text transform="translate(403.1 415.1) scale(0.935 1)" font-family='"Liberation Sans", sans-serif' font-size="12.4" font-weight="bold" text-anchor="end" stroke="#111" stroke-width="0.2">1.5</text>
<line x1="404.2" y1="453.7" x2="408.6" y2="453.7" stroke="#1a1a1a" stroke-width="1.15" stroke-linecap="butt"/>
<text transform="translate(403.1 458.2) scale(0.935 1)" font-family='"Liberation Sans", sans-serif' font-size="12.4" font-weight="bold" text-anchor="end" stroke="#111" stroke-width="0.2">1.0</text>
<line x1="404.2" y1="497.2" x2="408.6" y2="497.2" stroke="#1a1a1a" stroke-width="1.15" stroke-linecap="butt"/>
<text transform="translate(403.1 501.7) scale(0.935 1)" font-family='"Liberation Sans", sans-serif' font-size="12.4" font-weight="bold" text-anchor="end" stroke="#111" stroke-width="0.2">0.5</text>
<line x1="404.2" y1="540.2" x2="408.6" y2="540.2" stroke="#1a1a1a" stroke-width="1.15" stroke-linecap="butt"/>
<text transform="translate(403.1 544.7) scale(0.935 1)" font-family='"Liberation Sans", sans-serif' font-size="12.4" font-weight="bold" text-anchor="end" stroke="#111" stroke-width="0.2">0.0</text>
<text transform="translate(434.6 549.2) rotate(-45)" font-family='"Liberation Sans", sans-serif' font-size="12.6" font-weight="bold" text-anchor="end" stroke="#111" stroke-width="0.25">0H</text>
<text transform="translate(478.32 549.2) rotate(-45)" font-family='"Liberation Sans", sans-serif' font-size="12.6" font-weight="bold" text-anchor="end" stroke="#111" stroke-width="0.25">6H</text>
<text transform="translate(522.04 549.2) rotate(-45)" font-family='"Liberation Sans", sans-serif' font-size="12.6" font-weight="bold" text-anchor="end" stroke="#111" stroke-width="0.25">12H</text>
<text transform="translate(565.76 549.2) rotate(-45)" font-family='"Liberation Sans", sans-serif' font-size="12.6" font-weight="bold" text-anchor="end" stroke="#111" stroke-width="0.25">18H</text>
<text transform="translate(609.48 549.2) rotate(-45)" font-family='"Liberation Sans", sans-serif' font-size="12.6" font-weight="bold" text-anchor="end" stroke="#111" stroke-width="0.25">24H</text>
<polyline points="413.6,454.2 413.6,448.2 446.2,448.2 446.2,454.2" fill="none" stroke="#0a0a0a" stroke-width="1.85" stroke-linecap="round" stroke-linejoin="miter"/>
<polyline points="430,448.2 430,380.4" fill="none" stroke="#0a0a0a" stroke-width="1.95" stroke-linecap="butt" stroke-linejoin="miter"/>
<polyline points="429,381.4 562.4,381.4 562.4,473" fill="none" stroke="#0a0a0a" stroke-width="1.95" stroke-linecap="butt" stroke-linejoin="miter"/>
<polyline points="504,473 619.2,473" fill="none" stroke="#0a0a0a" stroke-width="1.95" stroke-linecap="butt" stroke-linejoin="miter"/>
<polyline points="430,415.4 474.2,415.4 474.2,467.4" fill="none" stroke="#0a0a0a" stroke-width="1.95" stroke-linecap="butt" stroke-linejoin="miter"/>
<text x="492" y="382.3" font-family='"Liberation Sans", sans-serif' font-size="12.4" font-weight="bold" text-anchor="middle" fill="#1a1a1a">****</text>
<text x="452.6" y="414.7" font-family='"Liberation Sans", sans-serif' font-size="12.4" font-weight="bold" text-anchor="middle" fill="#1a1a1a">***</text>
</g>
<g transform="translate(0 0.3)">
<text transform="translate(699.2 473) rotate(-90)" font-family='"Liberation Serif", serif' font-size="14.3" font-weight="bold" text-anchor="middle" textLength="182" lengthAdjust="spacingAndGlyphs" stroke="#111" stroke-width="0.22">Relative TLR2 mRNA abundance</text>
<rect x="739.22" y="453.22" width="20.56" height="86.58" fill="#d7d9d8" stroke="#1a1a1a" stroke-width="1.55"/>
<rect x="740.2" y="454.2" width="18.6" height="85" fill="none" stroke="#f0f0f0" stroke-width="0.7"/>
<line x1="793.18" y1="475" x2="793.18" y2="478.9" stroke="#1a1a1a" stroke-width="1.15" stroke-linecap="butt"/>
<line x1="787.58" y1="475.55" x2="798.78" y2="475.55" stroke="#1a1a1a" stroke-width="1.15" stroke-linecap="butt"/>
<rect x="782.9" y="479.02" width="20.56" height="60.78" fill="url(#pv)" stroke="#1a1a1a" stroke-width="1.55"/>
<line x1="786.83" y1="479.6" x2="786.83" y2="539.2" stroke="#686868" stroke-width="0.8" stroke-linecap="butt"/>
<line x1="791.13" y1="479.6" x2="791.13" y2="539.2" stroke="#686868" stroke-width="0.8" stroke-linecap="butt"/>
<line x1="795.48" y1="479.6" x2="795.48" y2="539.2" stroke="#686868" stroke-width="0.8" stroke-linecap="butt"/>
<line x1="799.83" y1="479.6" x2="799.83" y2="539.2" stroke="#9a9a9a" stroke-width="0.8" stroke-linecap="butt"/>
<line x1="836.86" y1="489.4" x2="836.86" y2="493.9" stroke="#1a1a1a" stroke-width="1.15" stroke-linecap="butt"/>
<line x1="831.26" y1="489.95" x2="842.46" y2="489.95" stroke="#1a1a1a" stroke-width="1.15" stroke-linecap="butt"/>
<rect x="826.58" y="494.02" width="20.56" height="45.78" fill="url(#pd)" stroke="#1a1a1a" stroke-width="1.55"/>
<line x1="880.54" y1="492" x2="880.54" y2="497.3" stroke="#1a1a1a" stroke-width="1.15" stroke-linecap="butt"/>
<line x1="874.94" y1="492.55" x2="886.14" y2="492.55" stroke="#1a1a1a" stroke-width="1.15" stroke-linecap="butt"/>
<rect x="870.26" y="497.42" width="20.56" height="42.38" fill="url(#pt)" stroke="#1a1a1a" stroke-width="1.55"/>
<line x1="924.22" y1="501.6" x2="924.22" y2="507.7" stroke="#1a1a1a" stroke-width="1.15" stroke-linecap="butt"/>
<line x1="918.62" y1="502.15" x2="929.82" y2="502.15" stroke="#1a1a1a" stroke-width="1.15" stroke-linecap="butt"/>
<rect x="913.94" y="507.82" width="20.56" height="31.98" fill="url(#pb)" stroke="#1a1a1a" stroke-width="1.55"/>
<line x1="724" y1="539.8" x2="947.6" y2="539.8" stroke="#1a1a1a" stroke-width="1.6" stroke-linecap="butt"/>
<line x1="728.2" y1="407.65" x2="728.2" y2="540.4" stroke="#1a1a1a" stroke-width="1.3" stroke-linecap="butt"/>
<line x1="723.8" y1="408.2" x2="728.2" y2="408.2" stroke="#1a1a1a" stroke-width="1.15" stroke-linecap="butt"/>
<text transform="translate(722.7 412.7) scale(0.935 1)" font-family='"Liberation Sans", sans-serif' font-size="12.4" font-weight="bold" text-anchor="end" stroke="#111" stroke-width="0.2">1.5</text>
<line x1="723.8" y1="452" x2="728.2" y2="452" stroke="#1a1a1a" stroke-width="1.15" stroke-linecap="butt"/>
<text transform="translate(722.7 456.5) scale(0.935 1)" font-family='"Liberation Sans", sans-serif' font-size="12.4" font-weight="bold" text-anchor="end" stroke="#111" stroke-width="0.2">1.0</text>
<line x1="723.8" y1="496" x2="728.2" y2="496" stroke="#1a1a1a" stroke-width="1.15" stroke-linecap="butt"/>
<text transform="translate(722.7 500.5) scale(0.935 1)" font-family='"Liberation Sans", sans-serif' font-size="12.4" font-weight="bold" text-anchor="end" stroke="#111" stroke-width="0.2">0.5</text>
<line x1="723.8" y1="539.8" x2="728.2" y2="539.8" stroke="#1a1a1a" stroke-width="1.15" stroke-linecap="butt"/>
<text transform="translate(722.7 544.3) scale(0.935 1)" font-family='"Liberation Sans", sans-serif' font-size="12.4" font-weight="bold" text-anchor="end" stroke="#111" stroke-width="0.2">0.0</text>
<text transform="translate(753.8 548.8) rotate(-45)" font-family='"Liberation Sans", sans-serif' font-size="12.6" font-weight="bold" text-anchor="end" stroke="#111" stroke-width="0.25">0H</text>
<text transform="translate(797.48 548.8) rotate(-45)" font-family='"Liberation Sans", sans-serif' font-size="12.6" font-weight="bold" text-anchor="end" stroke="#111" stroke-width="0.25">6H</text>
<text transform="translate(841.16 548.8) rotate(-45)" font-family='"Liberation Sans", sans-serif' font-size="12.6" font-weight="bold" text-anchor="end" stroke="#111" stroke-width="0.25">12H</text>
<text transform="translate(884.84 548.8) rotate(-45)" font-family='"Liberation Sans", sans-serif' font-size="12.6" font-weight="bold" text-anchor="end" stroke="#111" stroke-width="0.25">18H</text>
<text transform="translate(928.52 548.8) rotate(-45)" font-family='"Liberation Sans", sans-serif' font-size="12.6" font-weight="bold" text-anchor="end" stroke="#111" stroke-width="0.25">24H</text>
<polyline points="733.8,453 733.8,447.4 763.8,447.4 763.8,453" fill="none" stroke="#0a0a0a" stroke-width="1.85" stroke-linecap="round" stroke-linejoin="miter"/>
<polyline points="749,447.4 749,380.6" fill="none" stroke="#0a0a0a" stroke-width="1.95" stroke-linecap="butt" stroke-linejoin="miter"/>
<polyline points="748,381.6 883.4,381.6 883.4,477.6" fill="none" stroke="#0a0a0a" stroke-width="1.95" stroke-linecap="butt" stroke-linejoin="miter"/>
<polyline points="824,477.6 936.6,477.6" fill="none" stroke="#0a0a0a" stroke-width="1.95" stroke-linecap="butt" stroke-linejoin="miter"/>
<polyline points="749,412 793.2,412 793.2,469" fill="none" stroke="#0a0a0a" stroke-width="1.95" stroke-linecap="butt" stroke-linejoin="miter"/>
<text x="810.6" y="382.7" font-family='"Liberation Sans", sans-serif' font-size="12.4" font-weight="bold" text-anchor="middle" fill="#1a1a1a">****</text>
<text x="771.8" y="413.9" font-family='"Liberation Sans", sans-serif' font-size="12.4" font-weight="bold" text-anchor="middle" fill="#1a1a1a">***</text>
</g>
<g transform="translate(0 0.3)">
<text transform="translate(1018.2 471.3) rotate(-90)" font-family='"Liberation Serif", serif' font-size="14.3" font-weight="bold" text-anchor="middle" textLength="183.4" lengthAdjust="spacingAndGlyphs" stroke="#111" stroke-width="0.22">Relative TLR2 mRNA abundance</text>
<rect x="1058.52" y="451.02" width="20.56" height="87.58" fill="#d7d9d8" stroke="#1a1a1a" stroke-width="1.55"/>
<rect x="1059.5" y="452" width="18.6" height="86" fill="none" stroke="#f0f0f0" stroke-width="0.7"/>
<line x1="1112.42" y1="475.4" x2="1112.42" y2="477.9" stroke="#1a1a1a" stroke-width="1.15" stroke-linecap="butt"/>
<line x1="1106.82" y1="475.95" x2="1118.02" y2="475.95" stroke="#1a1a1a" stroke-width="1.15" stroke-linecap="butt"/>
<rect x="1102.14" y="478.02" width="20.56" height="60.58" fill="url(#pv)" stroke="#1a1a1a" stroke-width="1.55"/>
<line x1="1106.07" y1="478.6" x2="1106.07" y2="538" stroke="#686868" stroke-width="0.8" stroke-linecap="butt"/>
<line x1="1110.37" y1="478.6" x2="1110.37" y2="538" stroke="#686868" stroke-width="0.8" stroke-linecap="butt"/>
<line x1="1114.72" y1="478.6" x2="1114.72" y2="538" stroke="#686868" stroke-width="0.8" stroke-linecap="butt"/>
<line x1="1119.07" y1="478.6" x2="1119.07" y2="538" stroke="#9a9a9a" stroke-width="0.8" stroke-linecap="butt"/>
<line x1="1156.04" y1="498.4" x2="1156.04" y2="500.3" stroke="#1a1a1a" stroke-width="1.15" stroke-linecap="butt"/>
<line x1="1150.44" y1="498.95" x2="1161.64" y2="498.95" stroke="#1a1a1a" stroke-width="1.15" stroke-linecap="butt"/>
<rect x="1145.76" y="500.42" width="20.56" height="38.18" fill="url(#pd)" stroke="#1a1a1a" stroke-width="1.55"/>
<line x1="1199.66" y1="489.2" x2="1199.66" y2="494.1" stroke="#1a1a1a" stroke-width="1.15" stroke-linecap="butt"/>
<line x1="1194.06" y1="489.75" x2="1205.26" y2="489.75" stroke="#1a1a1a" stroke-width="1.15" stroke-linecap="butt"/>
<rect x="1189.38" y="494.22" width="20.56" height="44.38" fill="url(#pt)" stroke="#1a1a1a" stroke-width="1.55"/>
<line x1="1243.28" y1="510" x2="1243.28" y2="520.5" stroke="#1a1a1a" stroke-width="1.15" stroke-linecap="butt"/>
<line x1="1237.68" y1="510.55" x2="1248.88" y2="510.55" stroke="#1a1a1a" stroke-width="1.15" stroke-linecap="butt"/>
<rect x="1233" y="520.62" width="20.56" height="17.98" fill="url(#pb)" stroke="#1a1a1a" stroke-width="1.55"/>
<line x1="1043.2" y1="538.6" x2="1266.3" y2="538.6" stroke="#1a1a1a" stroke-width="1.6" stroke-linecap="butt"/>
<line x1="1047.1" y1="405.45" x2="1047.1" y2="539.2" stroke="#1a1a1a" stroke-width="1.3" stroke-linecap="butt"/>
<line x1="1042.7" y1="406" x2="1047.1" y2="406" stroke="#1a1a1a" stroke-width="1.15" stroke-linecap="butt"/>
<text transform="translate(1041.6 410.5) scale(0.935 1)" font-family='"Liberation Sans", sans-serif' font-size="12.4" font-weight="bold" text-anchor="end" stroke="#111" stroke-width="0.2">1.5</text>
<line x1="1042.7" y1="450.1" x2="1047.1" y2="450.1" stroke="#1a1a1a" stroke-width="1.15" stroke-linecap="butt"/>
<text transform="translate(1041.6 454.6) scale(0.935 1)" font-family='"Liberation Sans", sans-serif' font-size="12.4" font-weight="bold" text-anchor="end" stroke="#111" stroke-width="0.2">1.0</text>
<line x1="1042.7" y1="494.4" x2="1047.1" y2="494.4" stroke="#1a1a1a" stroke-width="1.15" stroke-linecap="butt"/>
<text transform="translate(1041.6 498.9) scale(0.935 1)" font-family='"Liberation Sans", sans-serif' font-size="12.4" font-weight="bold" text-anchor="end" stroke="#111" stroke-width="0.2">0.5</text>
<line x1="1042.7" y1="538.6" x2="1047.1" y2="538.6" stroke="#1a1a1a" stroke-width="1.15" stroke-linecap="butt"/>
<text transform="translate(1041.6 543.1) scale(0.935 1)" font-family='"Liberation Sans", sans-serif' font-size="12.4" font-weight="bold" text-anchor="end" stroke="#111" stroke-width="0.2">0.0</text>
<text transform="translate(1073.1 547.6) rotate(-45)" font-family='"Liberation Sans", sans-serif' font-size="12.6" font-weight="bold" text-anchor="end" stroke="#111" stroke-width="0.25">0H</text>
<text transform="translate(1116.72 547.6) rotate(-45)" font-family='"Liberation Sans", sans-serif' font-size="12.6" font-weight="bold" text-anchor="end" stroke="#111" stroke-width="0.25">6H</text>
<text transform="translate(1160.34 547.6) rotate(-45)" font-family='"Liberation Sans", sans-serif' font-size="12.6" font-weight="bold" text-anchor="end" stroke="#111" stroke-width="0.25">12H</text>
<text transform="translate(1203.96 547.6) rotate(-45)" font-family='"Liberation Sans", sans-serif' font-size="12.6" font-weight="bold" text-anchor="end" stroke="#111" stroke-width="0.25">18H</text>
<text transform="translate(1247.58 547.6) rotate(-45)" font-family='"Liberation Sans", sans-serif' font-size="12.6" font-weight="bold" text-anchor="end" stroke="#111" stroke-width="0.25">24H</text>
<polyline points="1053.8,451.2 1053.8,445.4 1083.8,445.4 1083.8,451.2" fill="none" stroke="#0a0a0a" stroke-width="1.85" stroke-linecap="round" stroke-linejoin="miter"/>
<polyline points="1069,445.4 1069,379.8" fill="none" stroke="#0a0a0a" stroke-width="1.95" stroke-linecap="butt" stroke-linejoin="miter"/>
<polyline points="1068,380.8 1201,380.8 1201,475.6" fill="none" stroke="#0a0a0a" stroke-width="1.95" stroke-linecap="butt" stroke-linejoin="miter"/>
<polyline points="1143.2,475.6 1259.4,475.6" fill="none" stroke="#0a0a0a" stroke-width="1.95" stroke-linecap="butt" stroke-linejoin="miter"/>
<polyline points="1069,409.2 1112.2,409.2 1112.2,466.4" fill="none" stroke="#0a0a0a" stroke-width="1.95" stroke-linecap="butt" stroke-linejoin="miter"/>
<text x="1132.4" y="382.1" font-family='"Liberation Sans", sans-serif' font-size="12.4" font-weight="bold" text-anchor="middle" fill="#1a1a1a">****</text>
<text x="1092.2" y="409.1" font-family='"Liberation Sans", sans-serif' font-size="12.4" font-weight="bold" text-anchor="middle" fill="#1a1a1a">**</text>
</g>
<g transform="translate(0 0.3)">
<text transform="translate(1337.6 473) rotate(-90)" font-family='"Liberation Serif", serif' font-size="14.3" font-weight="bold" text-anchor="middle" textLength="181.2" lengthAdjust="spacingAndGlyphs" stroke="#111" stroke-width="0.22">Relative TLR2 mRNA abundance</text>
<rect x="1377.42" y="453.02" width="20.56" height="85.78" fill="#d7d9d8" stroke="#1a1a1a" stroke-width="1.55"/>
<rect x="1378.4" y="454" width="18.6" height="84.2" fill="none" stroke="#f0f0f0" stroke-width="0.7"/>
<line x1="1431.45" y1="470.4" x2="1431.45" y2="475.5" stroke="#1a1a1a" stroke-width="1.15" stroke-linecap="butt"/>
<line x1="1425.85" y1="470.95" x2="1437.05" y2="470.95" stroke="#1a1a1a" stroke-width="1.15" stroke-linecap="butt"/>
<rect x="1421.17" y="475.62" width="20.56" height="63.18" fill="url(#pv)" stroke="#1a1a1a" stroke-width="1.55"/>
<line x1="1425.1" y1="476.2" x2="1425.1" y2="538.2" stroke="#686868" stroke-width="0.8" stroke-linecap="butt"/>
<line x1="1429.4" y1="476.2" x2="1429.4" y2="538.2" stroke="#686868" stroke-width="0.8" stroke-linecap="butt"/>
<line x1="1433.75" y1="476.2" x2="1433.75" y2="538.2" stroke="#686868" stroke-width="0.8" stroke-linecap="butt"/>
<line x1="1438.1" y1="476.2" x2="1438.1" y2="538.2" stroke="#9a9a9a" stroke-width="0.8" stroke-linecap="butt"/>
<line x1="1475.2" y1="503.8" x2="1475.2" y2="506.5" stroke="#1a1a1a" stroke-width="1.15" stroke-linecap="butt"/>
<line x1="1469.6" y1="504.35" x2="1480.8" y2="504.35" stroke="#1a1a1a" stroke-width="1.15" stroke-linecap="butt"/>
<rect x="1464.92" y="506.62" width="20.56" height="32.18" fill="url(#pd)" stroke="#1a1a1a" stroke-width="1.55"/>
<line x1="1518.95" y1="490.6" x2="1518.95" y2="496.5" stroke="#1a1a1a" stroke-width="1.15" stroke-linecap="butt"/>
<line x1="1513.35" y1="491.15" x2="1524.55" y2="491.15" stroke="#1a1a1a" stroke-width="1.15" stroke-linecap="butt"/>
<rect x="1508.67" y="496.62" width="20.56" height="42.18" fill="url(#pt)" stroke="#1a1a1a" stroke-width="1.55"/>
<line x1="1562.7" y1="526" x2="1562.7" y2="528.9" stroke="#1a1a1a" stroke-width="1.15" stroke-linecap="butt"/>
<line x1="1557.1" y1="526.55" x2="1568.3" y2="526.55" stroke="#1a1a1a" stroke-width="1.15" stroke-linecap="butt"/>
<rect x="1552.42" y="529.02" width="20.56" height="9.78" fill="url(#pb)" stroke="#1a1a1a" stroke-width="1.55"/>
<line x1="1362" y1="538.8" x2="1586.5" y2="538.8" stroke="#1a1a1a" stroke-width="1.6" stroke-linecap="butt"/>
<line x1="1366.2" y1="407.65" x2="1366.2" y2="539.4" stroke="#1a1a1a" stroke-width="1.3" stroke-linecap="butt"/>
<line x1="1361.8" y1="408.2" x2="1366.2" y2="408.2" stroke="#1a1a1a" stroke-width="1.15" stroke-linecap="butt"/>
<text transform="translate(1360.7 412.7) scale(0.935 1)" font-family='"Liberation Sans", sans-serif' font-size="12.4" font-weight="bold" text-anchor="end" stroke="#111" stroke-width="0.2">1.5</text>
<line x1="1361.8" y1="452" x2="1366.2" y2="452" stroke="#1a1a1a" stroke-width="1.15" stroke-linecap="butt"/>
<text transform="translate(1360.7 456.5) scale(0.935 1)" font-family='"Liberation Sans", sans-serif' font-size="12.4" font-weight="bold" text-anchor="end" stroke="#111" stroke-width="0.2">1.0</text>
<line x1="1361.8" y1="495.4" x2="1366.2" y2="495.4" stroke="#1a1a1a" stroke-width="1.15" stroke-linecap="butt"/>
<text transform="translate(1360.7 499.9) scale(0.935 1)" font-family='"Liberation Sans", sans-serif' font-size="12.4" font-weight="bold" text-anchor="end" stroke="#111" stroke-width="0.2">0.5</text>
<line x1="1361.8" y1="538.8" x2="1366.2" y2="538.8" stroke="#1a1a1a" stroke-width="1.15" stroke-linecap="butt"/>
<text transform="translate(1360.7 543.3) scale(0.935 1)" font-family='"Liberation Sans", sans-serif' font-size="12.4" font-weight="bold" text-anchor="end" stroke="#111" stroke-width="0.2">0.0</text>
<text transform="translate(1392 547.8) rotate(-45)" font-family='"Liberation Sans", sans-serif' font-size="12.6" font-weight="bold" text-anchor="end" stroke="#111" stroke-width="0.25">0H</text>
<text transform="translate(1435.75 547.8) rotate(-45)" font-family='"Liberation Sans", sans-serif' font-size="12.6" font-weight="bold" text-anchor="end" stroke="#111" stroke-width="0.25">6H</text>
<text transform="translate(1479.5 547.8) rotate(-45)" font-family='"Liberation Sans", sans-serif' font-size="12.6" font-weight="bold" text-anchor="end" stroke="#111" stroke-width="0.25">12H</text>
<text transform="translate(1523.25 547.8) rotate(-45)" font-family='"Liberation Sans", sans-serif' font-size="12.6" font-weight="bold" text-anchor="end" stroke="#111" stroke-width="0.25">18H</text>
<text transform="translate(1567 547.8) rotate(-45)" font-family='"Liberation Sans", sans-serif' font-size="12.6" font-weight="bold" text-anchor="end" stroke="#111" stroke-width="0.25">24H</text>
<polyline points="1371.2,452.6 1371.2,446.8 1402.8,446.8 1402.8,452.6" fill="none" stroke="#0a0a0a" stroke-width="1.85" stroke-linecap="round" stroke-linejoin="miter"/>
<polyline points="1388.4,446.8 1388.4,381" fill="none" stroke="#0a0a0a" stroke-width="1.95" stroke-linecap="butt" stroke-linejoin="miter"/>
<polyline points="1387.4,382 1517.2,382 1517.2,480" fill="none" stroke="#0a0a0a" stroke-width="1.95" stroke-linecap="butt" stroke-linejoin="miter"/>
<polyline points="1460.4,480 1575.4,480" fill="none" stroke="#0a0a0a" stroke-width="1.95" stroke-linecap="butt" stroke-linejoin="miter"/>
<polyline points="1388.4,411.8 1432.2,411.8 1432.2,464.4" fill="none" stroke="#0a0a0a" stroke-width="1.95" stroke-linecap="butt" stroke-linejoin="miter"/>
<text x="1447.4" y="381.9" font-family='"Liberation Sans", sans-serif' font-size="12.4" font-weight="bold" text-anchor="middle" fill="#1a1a1a">****</text>
<text x="1411.4" y="413.1" font-family='"Liberation Sans", sans-serif' font-size="12.4" font-weight="bold" text-anchor="middle" fill="#1a1a1a">***</text>
</g>
<g transform="translate(0 0.3)">
<text transform="translate(60.6 742.8) rotate(-90)" font-family='"Liberation Serif", serif' font-size="14.3" font-weight="bold" text-anchor="middle" textLength="182.4" lengthAdjust="spacingAndGlyphs" stroke="#111" stroke-width="0.22">Relative TLR4 mRNA abundance</text>
<rect x="100.82" y="722.82" width="20.56" height="86.58" fill="#d7d9d8" stroke="#1a1a1a" stroke-width="1.55"/>
<rect x="101.8" y="723.8" width="18.6" height="85" fill="none" stroke="#f0f0f0" stroke-width="0.7"/>
<line x1="154.86" y1="719.4" x2="154.86" y2="721.9" stroke="#1a1a1a" stroke-width="1.15" stroke-linecap="butt"/>
<line x1="149.26" y1="719.95" x2="160.46" y2="719.95" stroke="#1a1a1a" stroke-width="1.15" stroke-linecap="butt"/>
<rect x="144.58" y="722.02" width="20.56" height="87.38" fill="url(#pv)" stroke="#1a1a1a" stroke-width="1.55"/>
<line x1="148.51" y1="722.6" x2="148.51" y2="808.8" stroke="#686868" stroke-width="0.8" stroke-linecap="butt"/>
<line x1="152.81" y1="722.6" x2="152.81" y2="808.8" stroke="#686868" stroke-width="0.8" stroke-linecap="butt"/>
<line x1="157.16" y1="722.6" x2="157.16" y2="808.8" stroke="#686868" stroke-width="0.8" stroke-linecap="butt"/>
<line x1="161.51" y1="722.6" x2="161.51" y2="808.8" stroke="#9a9a9a" stroke-width="0.8" stroke-linecap="butt"/>
<line x1="198.62" y1="717.4" x2="198.62" y2="723.1" stroke="#1a1a1a" stroke-width="1.15" stroke-linecap="butt"/>
<line x1="193.02" y1="717.95" x2="204.22" y2="717.95" stroke="#1a1a1a" stroke-width="1.15" stroke-linecap="butt"/>
<rect x="188.34" y="723.22" width="20.56" height="86.18" fill="url(#pd)" stroke="#1a1a1a" stroke-width="1.55"/>
<line x1="242.38" y1="717.8" x2="242.38" y2="720.5" stroke="#1a1a1a" stroke-width="1.15" stroke-linecap="butt"/>
<line x1="236.78" y1="718.35" x2="247.98" y2="718.35" stroke="#1a1a1a" stroke-width="1.15" stroke-linecap="butt"/>
<rect x="232.1" y="720.62" width="20.56" height="88.78" fill="url(#pt)" stroke="#1a1a1a" stroke-width="1.55"/>
<line x1="286.14" y1="715" x2="286.14" y2="719.1" stroke="#1a1a1a" stroke-width="1.15" stroke-linecap="butt"/>
<line x1="280.54" y1="715.55" x2="291.74" y2="715.55" stroke="#1a1a1a" stroke-width="1.15" stroke-linecap="butt"/>
<rect x="275.86" y="719.22" width="20.56" height="90.18" fill="url(#pb)" stroke="#1a1a1a" stroke-width="1.55"/>
<line x1="85.6" y1="809.4" x2="308.6" y2="809.4" stroke="#1a1a1a" stroke-width="1.6" stroke-linecap="butt"/>
<line x1="89.4" y1="677.45" x2="89.4" y2="810" stroke="#1a1a1a" stroke-width="1.3" stroke-linecap="butt"/>
<line x1="85" y1="678" x2="89.4" y2="678" stroke="#1a1a1a" stroke-width="1.15" stroke-linecap="butt"/>
<text transform="translate(83.9 682.5) scale(0.935 1)" font-family='"Liberation Sans", sans-serif' font-size="12.4" font-weight="bold" text-anchor="end" stroke="#111" stroke-width="0.2">1.5</text>
<line x1="85" y1="721.8" x2="89.4" y2="721.8" stroke="#1a1a1a" stroke-width="1.15" stroke-linecap="butt"/>
<text transform="translate(83.9 726.3) scale(0.935 1)" font-family='"Liberation Sans", sans-serif' font-size="12.4" font-weight="bold" text-anchor="end" stroke="#111" stroke-width="0.2">1.0</text>
<line x1="85" y1="765.8" x2="89.4" y2="765.8" stroke="#1a1a1a" stroke-width="1.15" stroke-linecap="butt"/>
<text transform="translate(83.9 770.3) scale(0.935 1)" font-family='"Liberation Sans", sans-serif' font-size="12.4" font-weight="bold" text-anchor="end" stroke="#111" stroke-width="0.2">0.5</text>
<line x1="85" y1="809.4" x2="89.4" y2="809.4" stroke="#1a1a1a" stroke-width="1.15" stroke-linecap="butt"/>
<text transform="translate(83.9 813.9) scale(0.935 1)" font-family='"Liberation Sans", sans-serif' font-size="12.4" font-weight="bold" text-anchor="end" stroke="#111" stroke-width="0.2">0.0</text>
<text transform="translate(115.4 818.4) rotate(-45)" font-family='"Liberation Sans", sans-serif' font-size="12.6" font-weight="bold" text-anchor="end" stroke="#111" stroke-width="0.25">0H</text>
<text transform="translate(159.16 818.4) rotate(-45)" font-family='"Liberation Sans", sans-serif' font-size="12.6" font-weight="bold" text-anchor="end" stroke="#111" stroke-width="0.25">6H</text>
<text transform="translate(202.92 818.4) rotate(-45)" font-family='"Liberation Sans", sans-serif' font-size="12.6" font-weight="bold" text-anchor="end" stroke="#111" stroke-width="0.25">12H</text>
<text transform="translate(246.68 818.4) rotate(-45)" font-family='"Liberation Sans", sans-serif' font-size="12.6" font-weight="bold" text-anchor="end" stroke="#111" stroke-width="0.25">18H</text>
<text transform="translate(290.44 818.4) rotate(-45)" font-family='"Liberation Sans", sans-serif' font-size="12.6" font-weight="bold" text-anchor="end" stroke="#111" stroke-width="0.25">24H</text>
<polyline points="96.6,722 96.6,715.8 126,715.8 126,722" fill="none" stroke="#0a0a0a" stroke-width="1.85" stroke-linecap="round" stroke-linejoin="miter"/>
<polyline points="111.7,715.8 111.7,655.2 220,655.2 220,709.2" fill="none" stroke="#0a0a0a" stroke-width="1.75" stroke-linecap="butt" stroke-linejoin="miter"/>
<polyline points="142.4,709.2 299.6,709.2" fill="none" stroke="#0a0a0a" stroke-width="1.75" stroke-linecap="butt" stroke-linejoin="miter"/>
<text x="165.6" y="651.4" font-family='"Liberation Sans", sans-serif' font-size="10.6" font-weight="normal" text-anchor="middle" fill="#333">ns</text>
</g>
<g transform="translate(0 0.3)">
<text transform="translate(379.9 744.3) rotate(-90)" font-family='"Liberation Serif", serif' font-size="14.3" font-weight="bold" text-anchor="middle" textLength="182.6" lengthAdjust="spacingAndGlyphs" stroke="#111" stroke-width="0.22">Relative TLR4 mRNA abundance</text>
<rect x="420.02" y="724.42" width="20.56" height="86.18" fill="#d7d9d8" stroke="#1a1a1a" stroke-width="1.55"/>
<rect x="421" y="725.4" width="18.6" height="84.6" fill="none" stroke="#f0f0f0" stroke-width="0.7"/>
<line x1="474.02" y1="723.4" x2="474.02" y2="728.9" stroke="#1a1a1a" stroke-width="1.15" stroke-linecap="butt"/>
<line x1="468.42" y1="723.95" x2="479.62" y2="723.95" stroke="#1a1a1a" stroke-width="1.15" stroke-linecap="butt"/>
<rect x="463.74" y="729.02" width="20.56" height="81.58" fill="url(#pv)" stroke="#1a1a1a" stroke-width="1.55"/>
<line x1="467.67" y1="729.6" x2="467.67" y2="810" stroke="#686868" stroke-width="0.8" stroke-linecap="butt"/>
<line x1="471.97" y1="729.6" x2="471.97" y2="810" stroke="#686868" stroke-width="0.8" stroke-linecap="butt"/>
<line x1="476.32" y1="729.6" x2="476.32" y2="810" stroke="#686868" stroke-width="0.8" stroke-linecap="butt"/>
<line x1="480.67" y1="729.6" x2="480.67" y2="810" stroke="#9a9a9a" stroke-width="0.8" stroke-linecap="butt"/>
<line x1="517.74" y1="770.4" x2="517.74" y2="774.7" stroke="#1a1a1a" stroke-width="1.15" stroke-linecap="butt"/>
<line x1="512.14" y1="770.95" x2="523.34" y2="770.95" stroke="#1a1a1a" stroke-width="1.15" stroke-linecap="butt"/>
<rect x="507.46" y="774.82" width="20.56" height="35.78" fill="url(#pd)" stroke="#1a1a1a" stroke-width="1.55"/>
<line x1="561.46" y1="775.2" x2="561.46" y2="776.9" stroke="#1a1a1a" stroke-width="1.15" stroke-linecap="butt"/>
<line x1="555.86" y1="775.75" x2="567.06" y2="775.75" stroke="#1a1a1a" stroke-width="1.15" stroke-linecap="butt"/>
<rect x="551.18" y="777.02" width="20.56" height="33.58" fill="url(#pt)" stroke="#1a1a1a" stroke-width="1.55"/>
<line x1="605.18" y1="746.8" x2="605.18" y2="756.7" stroke="#1a1a1a" stroke-width="1.15" stroke-linecap="butt"/>
<line x1="599.58" y1="747.35" x2="610.78" y2="747.35" stroke="#1a1a1a" stroke-width="1.15" stroke-linecap="butt"/>
<rect x="594.9" y="756.82" width="20.56" height="53.78" fill="url(#pb)" stroke="#1a1a1a" stroke-width="1.55"/>
<line x1="404.4" y1="810.6" x2="628" y2="810.6" stroke="#1a1a1a" stroke-width="1.6" stroke-linecap="butt"/>
<line x1="408.6" y1="678.65" x2="408.6" y2="811.2" stroke="#1a1a1a" stroke-width="1.3" stroke-linecap="butt"/>
<line x1="404.2" y1="679.2" x2="408.6" y2="679.2" stroke="#1a1a1a" stroke-width="1.15" stroke-linecap="butt"/>
<text transform="translate(403.1 683.7) scale(0.935 1)" font-family='"Liberation Sans", sans-serif' font-size="12.4" font-weight="bold" text-anchor="end" stroke="#111" stroke-width="0.2">1.5</text>
<line x1="404.2" y1="723.2" x2="408.6" y2="723.2" stroke="#1a1a1a" stroke-width="1.15" stroke-linecap="butt"/>
<text transform="translate(403.1 727.7) scale(0.935 1)" font-family='"Liberation Sans", sans-serif' font-size="12.4" font-weight="bold" text-anchor="end" stroke="#111" stroke-width="0.2">1.0</text>
<line x1="404.2" y1="767.2" x2="408.6" y2="767.2" stroke="#1a1a1a" stroke-width="1.15" stroke-linecap="butt"/>
<text transform="translate(403.1 771.7) scale(0.935 1)" font-family='"Liberation Sans", sans-serif' font-size="12.4" font-weight="bold" text-anchor="end" stroke="#111" stroke-width="0.2">0.5</text>
<line x1="404.2" y1="810.6" x2="408.6" y2="810.6" stroke="#1a1a1a" stroke-width="1.15" stroke-linecap="butt"/>
<text transform="translate(403.1 815.1) scale(0.935 1)" font-family='"Liberation Sans", sans-serif' font-size="12.4" font-weight="bold" text-anchor="end" stroke="#111" stroke-width="0.2">0.0</text>
<text transform="translate(434.6 819.6) rotate(-45)" font-family='"Liberation Sans", sans-serif' font-size="12.6" font-weight="bold" text-anchor="end" stroke="#111" stroke-width="0.25">0H</text>
<text transform="translate(478.32 819.6) rotate(-45)" font-family='"Liberation Sans", sans-serif' font-size="12.6" font-weight="bold" text-anchor="end" stroke="#111" stroke-width="0.25">6H</text>
<text transform="translate(522.04 819.6) rotate(-45)" font-family='"Liberation Sans", sans-serif' font-size="12.6" font-weight="bold" text-anchor="end" stroke="#111" stroke-width="0.25">12H</text>
<text transform="translate(565.76 819.6) rotate(-45)" font-family='"Liberation Sans", sans-serif' font-size="12.6" font-weight="bold" text-anchor="end" stroke="#111" stroke-width="0.25">18H</text>
<text transform="translate(609.48 819.6) rotate(-45)" font-family='"Liberation Sans", sans-serif' font-size="12.6" font-weight="bold" text-anchor="end" stroke="#111" stroke-width="0.25">24H</text>
<polyline points="415,722.2 415,716.4 445.8,716.4 445.8,722.2" fill="none" stroke="#0a0a0a" stroke-width="1.85" stroke-linecap="round" stroke-linejoin="miter"/>
<polyline points="430,716.4 430,652.4" fill="none" stroke="#0a0a0a" stroke-width="1.95" stroke-linecap="butt" stroke-linejoin="miter"/>
<polyline points="429,653.4 605,653.4 605,740.4" fill="none" stroke="#0a0a0a" stroke-width="1.95" stroke-linecap="butt" stroke-linejoin="miter"/>
<polyline points="430,678.6 540.6,678.6 540.6,759.4" fill="none" stroke="#0a0a0a" stroke-width="1.95" stroke-linecap="butt" stroke-linejoin="miter"/>
<polyline points="501.2,759.4 580.8,759.4" fill="none" stroke="#0a0a0a" stroke-width="1.95" stroke-linecap="butt" stroke-linejoin="miter"/>
<polyline points="430,707.4 474.2,707.4 474.2,717.4" fill="none" stroke="#0a0a0a" stroke-width="1.95" stroke-linecap="butt" stroke-linejoin="miter"/>
<text x="515.2" y="653.7" font-family='"Liberation Sans", sans-serif' font-size="12.4" font-weight="bold" text-anchor="middle" fill="#1a1a1a">***</text>
<text x="484.6" y="679.5" font-family='"Liberation Sans", sans-serif' font-size="12.4" font-weight="bold" text-anchor="middle" fill="#1a1a1a">****</text>
<text x="454.2" y="705" font-family='"Liberation Sans", sans-serif' font-size="10.6" font-weight="normal" text-anchor="middle" fill="#333">ns</text>
</g>
<g transform="translate(0 0.3)">
<text transform="translate(699.2 743.3) rotate(-90)" font-family='"Liberation Serif", serif' font-size="14.3" font-weight="bold" text-anchor="middle" textLength="184.6" lengthAdjust="spacingAndGlyphs" stroke="#111" stroke-width="0.22">Relative TLR4 mRNA abundance</text>
<rect x="739.22" y="723.22" width="20.56" height="87.58" fill="#d7d9d8" stroke="#1a1a1a" stroke-width="1.55"/>
<rect x="740.2" y="724.2" width="18.6" height="86" fill="none" stroke="#f0f0f0" stroke-width="0.7"/>
<line x1="793.18" y1="738.6" x2="793.18" y2="743.7" stroke="#1a1a1a" stroke-width="1.15" stroke-linecap="butt"/>
<line x1="787.58" y1="739.15" x2="798.78" y2="739.15" stroke="#1a1a1a" stroke-width="1.15" stroke-linecap="butt"/>
<rect x="782.9" y="743.82" width="20.56" height="66.98" fill="url(#pv)" stroke="#1a1a1a" stroke-width="1.55"/>
<line x1="786.83" y1="744.4" x2="786.83" y2="810.2" stroke="#686868" stroke-width="0.8" stroke-linecap="butt"/>
<line x1="791.13" y1="744.4" x2="791.13" y2="810.2" stroke="#686868" stroke-width="0.8" stroke-linecap="butt"/>
<line x1="795.48" y1="744.4" x2="795.48" y2="810.2" stroke="#686868" stroke-width="0.8" stroke-linecap="butt"/>
<line x1="799.83" y1="744.4" x2="799.83" y2="810.2" stroke="#9a9a9a" stroke-width="0.8" stroke-linecap="butt"/>
<line x1="836.86" y1="775.8" x2="836.86" y2="779.3" stroke="#1a1a1a" stroke-width="1.15" stroke-linecap="butt"/>
<line x1="831.26" y1="776.35" x2="842.46" y2="776.35" stroke="#1a1a1a" stroke-width="1.15" stroke-linecap="butt"/>
<rect x="826.58" y="779.42" width="20.56" height="31.38" fill="url(#pd)" stroke="#1a1a1a" stroke-width="1.55"/>
<line x1="880.54" y1="772.4" x2="880.54" y2="776.7" stroke="#1a1a1a" stroke-width="1.15" stroke-linecap="butt"/>
<line x1="874.94" y1="772.95" x2="886.14" y2="772.95" stroke="#1a1a1a" stroke-width="1.15" stroke-linecap="butt"/>
<rect x="870.26" y="776.82" width="20.56" height="33.98" fill="url(#pt)" stroke="#1a1a1a" stroke-width="1.55"/>
<line x1="924.22" y1="757.6" x2="924.22" y2="767.9" stroke="#1a1a1a" stroke-width="1.15" stroke-linecap="butt"/>
<line x1="918.62" y1="758.15" x2="929.82" y2="758.15" stroke="#1a1a1a" stroke-width="1.15" stroke-linecap="butt"/>
<rect x="913.94" y="768.02" width="20.56" height="42.78" fill="url(#pb)" stroke="#1a1a1a" stroke-width="1.55"/>
<line x1="724" y1="810.8" x2="947.6" y2="810.8" stroke="#1a1a1a" stroke-width="1.6" stroke-linecap="butt"/>
<line x1="728.2" y1="677.45" x2="728.2" y2="811.4" stroke="#1a1a1a" stroke-width="1.3" stroke-linecap="butt"/>
<line x1="723.8" y1="678" x2="728.2" y2="678" stroke="#1a1a1a" stroke-width="1.15" stroke-linecap="butt"/>
<text transform="translate(722.7 682.5) scale(0.935 1)" font-family='"Liberation Sans", sans-serif' font-size="12.4" font-weight="bold" text-anchor="end" stroke="#111" stroke-width="0.2">1.5</text>
<line x1="723.8" y1="722.2" x2="728.2" y2="722.2" stroke="#1a1a1a" stroke-width="1.15" stroke-linecap="butt"/>
<text transform="translate(722.7 726.7) scale(0.935 1)" font-family='"Liberation Sans", sans-serif' font-size="12.4" font-weight="bold" text-anchor="end" stroke="#111" stroke-width="0.2">1.0</text>
<line x1="723.8" y1="766.6" x2="728.2" y2="766.6" stroke="#1a1a1a" stroke-width="1.15" stroke-linecap="butt"/>
<text transform="translate(722.7 771.1) scale(0.935 1)" font-family='"Liberation Sans", sans-serif' font-size="12.4" font-weight="bold" text-anchor="end" stroke="#111" stroke-width="0.2">0.5</text>
<line x1="723.8" y1="810.8" x2="728.2" y2="810.8" stroke="#1a1a1a" stroke-width="1.15" stroke-linecap="butt"/>
<text transform="translate(722.7 815.3) scale(0.935 1)" font-family='"Liberation Sans", sans-serif' font-size="12.4" font-weight="bold" text-anchor="end" stroke="#111" stroke-width="0.2">0.0</text>
<text transform="translate(753.8 819.8) rotate(-45)" font-family='"Liberation Sans", sans-serif' font-size="12.6" font-weight="bold" text-anchor="end" stroke="#111" stroke-width="0.25">0H</text>
<text transform="translate(797.48 819.8) rotate(-45)" font-family='"Liberation Sans", sans-serif' font-size="12.6" font-weight="bold" text-anchor="end" stroke="#111" stroke-width="0.25">6H</text>
<text transform="translate(841.16 819.8) rotate(-45)" font-family='"Liberation Sans", sans-serif' font-size="12.6" font-weight="bold" text-anchor="end" stroke="#111" stroke-width="0.25">12H</text>
<text transform="translate(884.84 819.8) rotate(-45)" font-family='"Liberation Sans", sans-serif' font-size="12.6" font-weight="bold" text-anchor="end" stroke="#111" stroke-width="0.25">18H</text>
<text transform="translate(928.52 819.8) rotate(-45)" font-family='"Liberation Sans", sans-serif' font-size="12.6" font-weight="bold" text-anchor="end" stroke="#111" stroke-width="0.25">24H</text>
<polyline points="736.2,721 736.2,714.8 763.2,714.8 763.2,721" fill="none" stroke="#0a0a0a" stroke-width="1.85" stroke-linecap="round" stroke-linejoin="miter"/>
<polyline points="749,714.8 749,653" fill="none" stroke="#0a0a0a" stroke-width="1.95" stroke-linecap="butt" stroke-linejoin="miter"/>
<polyline points="748,654 878,654 878,744.8" fill="none" stroke="#0a0a0a" stroke-width="1.95" stroke-linecap="butt" stroke-linejoin="miter"/>
<polyline points="822.4,744.8 939.6,744.8" fill="none" stroke="#0a0a0a" stroke-width="1.95" stroke-linecap="butt" stroke-linejoin="miter"/>
<polyline points="749,683.6 792.4,683.6 792.4,732" fill="none" stroke="#0a0a0a" stroke-width="1.95" stroke-linecap="butt" stroke-linejoin="miter"/>
<text x="814" y="654.3" font-family='"Liberation Sans", sans-serif' font-size="12.4" font-weight="bold" text-anchor="middle" fill="#1a1a1a">****</text>
<text x="770.4" y="684.9" font-family='"Liberation Sans", sans-serif' font-size="12.4" font-weight="bold" text-anchor="middle" fill="#1a1a1a">*</text>
</g>
<g transform="translate(0 0.3)">
<text transform="translate(1018.2 743.3) rotate(-90)" font-family='"Liberation Serif", serif' font-size="14.3" font-weight="bold" text-anchor="middle" textLength="184.6" lengthAdjust="spacingAndGlyphs" stroke="#111" stroke-width="0.22">Relative TLR4 mRNA abundance</text>
<rect x="1058.52" y="722.82" width="20.56" height="87.38" fill="#d7d9d8" stroke="#1a1a1a" stroke-width="1.55"/>
<rect x="1059.5" y="723.8" width="18.6" height="85.8" fill="none" stroke="#f0f0f0" stroke-width="0.7"/>
<line x1="1112.42" y1="756.6" x2="1112.42" y2="760.1" stroke="#1a1a1a" stroke-width="1.15" stroke-linecap="butt"/>
<line x1="1106.82" y1="757.15" x2="1118.02" y2="757.15" stroke="#1a1a1a" stroke-width="1.15" stroke-linecap="butt"/>
<rect x="1102.14" y="760.22" width="20.56" height="49.98" fill="url(#pv)" stroke="#1a1a1a" stroke-width="1.55"/>
<line x1="1106.07" y1="760.8" x2="1106.07" y2="809.6" stroke="#686868" stroke-width="0.8" stroke-linecap="butt"/>
<line x1="1110.37" y1="760.8" x2="1110.37" y2="809.6" stroke="#686868" stroke-width="0.8" stroke-linecap="butt"/>
<line x1="1114.72" y1="760.8" x2="1114.72" y2="809.6" stroke="#686868" stroke-width="0.8" stroke-linecap="butt"/>
<line x1="1119.07" y1="760.8" x2="1119.07" y2="809.6" stroke="#9a9a9a" stroke-width="0.8" stroke-linecap="butt"/>
<line x1="1156.04" y1="778" x2="1156.04" y2="780.3" stroke="#1a1a1a" stroke-width="1.15" stroke-linecap="butt"/>
<line x1="1150.44" y1="778.55" x2="1161.64" y2="778.55" stroke="#1a1a1a" stroke-width="1.15" stroke-linecap="butt"/>
<rect x="1145.76" y="780.42" width="20.56" height="29.78" fill="url(#pd)" stroke="#1a1a1a" stroke-width="1.55"/>
<line x1="1199.66" y1="778.4" x2="1199.66" y2="783.7" stroke="#1a1a1a" stroke-width="1.15" stroke-linecap="butt"/>
<line x1="1194.06" y1="778.95" x2="1205.26" y2="778.95" stroke="#1a1a1a" stroke-width="1.15" stroke-linecap="butt"/>
<rect x="1189.38" y="783.82" width="20.56" height="26.38" fill="url(#pt)" stroke="#1a1a1a" stroke-width="1.55"/>
<line x1="1243.28" y1="764.4" x2="1243.28" y2="769.9" stroke="#1a1a1a" stroke-width="1.15" stroke-linecap="butt"/>
<line x1="1237.68" y1="764.95" x2="1248.88" y2="764.95" stroke="#1a1a1a" stroke-width="1.15" stroke-linecap="butt"/>
<rect x="1233" y="770.02" width="20.56" height="40.18" fill="url(#pb)" stroke="#1a1a1a" stroke-width="1.55"/>
<line x1="1043.2" y1="810.2" x2="1266.3" y2="810.2" stroke="#1a1a1a" stroke-width="1.6" stroke-linecap="butt"/>
<line x1="1047.1" y1="676.85" x2="1047.1" y2="810.8" stroke="#1a1a1a" stroke-width="1.3" stroke-linecap="butt"/>
<line x1="1042.7" y1="677.4" x2="1047.1" y2="677.4" stroke="#1a1a1a" stroke-width="1.15" stroke-linecap="butt"/>
<text transform="translate(1041.6 681.9) scale(0.935 1)" font-family='"Liberation Sans", sans-serif' font-size="12.4" font-weight="bold" text-anchor="end" stroke="#111" stroke-width="0.2">1.5</text>
<line x1="1042.7" y1="721.8" x2="1047.1" y2="721.8" stroke="#1a1a1a" stroke-width="1.15" stroke-linecap="butt"/>
<text transform="translate(1041.6 726.3) scale(0.935 1)" font-family='"Liberation Sans", sans-serif' font-size="12.4" font-weight="bold" text-anchor="end" stroke="#111" stroke-width="0.2">1.0</text>
<line x1="1042.7" y1="766.2" x2="1047.1" y2="766.2" stroke="#1a1a1a" stroke-width="1.15" stroke-linecap="butt"/>
<text transform="translate(1041.6 770.7) scale(0.935 1)" font-family='"Liberation Sans", sans-serif' font-size="12.4" font-weight="bold" text-anchor="end" stroke="#111" stroke-width="0.2">0.5</text>
<line x1="1042.7" y1="810.2" x2="1047.1" y2="810.2" stroke="#1a1a1a" stroke-width="1.15" stroke-linecap="butt"/>
<text transform="translate(1041.6 814.7) scale(0.935 1)" font-family='"Liberation Sans", sans-serif' font-size="12.4" font-weight="bold" text-anchor="end" stroke="#111" stroke-width="0.2">0.0</text>
<text transform="translate(1073.1 819.2) rotate(-45)" font-family='"Liberation Sans", sans-serif' font-size="12.6" font-weight="bold" text-anchor="end" stroke="#111" stroke-width="0.25">0H</text>
<text transform="translate(1116.72 819.2) rotate(-45)" font-family='"Liberation Sans", sans-serif' font-size="12.6" font-weight="bold" text-anchor="end" stroke="#111" stroke-width="0.25">6H</text>
<text transform="translate(1160.34 819.2) rotate(-45)" font-family='"Liberation Sans", sans-serif' font-size="12.6" font-weight="bold" text-anchor="end" stroke="#111" stroke-width="0.25">12H</text>
<text transform="translate(1203.96 819.2) rotate(-45)" font-family='"Liberation Sans", sans-serif' font-size="12.6" font-weight="bold" text-anchor="end" stroke="#111" stroke-width="0.25">18H</text>
<text transform="translate(1247.58 819.2) rotate(-45)" font-family='"Liberation Sans", sans-serif' font-size="12.6" font-weight="bold" text-anchor="end" stroke="#111" stroke-width="0.25">24H</text>
<polyline points="1054.2,721 1054.2,715 1083,715 1083,721" fill="none" stroke="#0a0a0a" stroke-width="1.85" stroke-linecap="round" stroke-linejoin="miter"/>
<polyline points="1068.6,715 1068.6,652.6 1178.4,652.6 1178.4,744.2" fill="none" stroke="#0a0a0a" stroke-width="1.75" stroke-linecap="butt" stroke-linejoin="miter"/>
<polyline points="1099.4,744.2 1256,744.2" fill="none" stroke="#0a0a0a" stroke-width="1.75" stroke-linecap="butt" stroke-linejoin="miter"/>
<text x="1122" y="653.7" font-family='"Liberation Sans", sans-serif' font-size="12.4" font-weight="bold" text-anchor="middle" fill="#1a1a1a">****</text>
</g>
<g transform="translate(0 0.3)">
<text transform="translate(1337.6 743.1) rotate(-90)" font-family='"Liberation Serif", serif' font-size="14.3" font-weight="bold" text-anchor="middle" textLength="185" lengthAdjust="spacingAndGlyphs" stroke="#111" stroke-width="0.22">Relative TLR4 mRNA abundance</text>
<rect x="1377.42" y="722.62" width="20.56" height="87.58" fill="#d7d9d8" stroke="#1a1a1a" stroke-width="1.55"/>
<rect x="1378.4" y="723.6" width="18.6" height="86" fill="none" stroke="#f0f0f0" stroke-width="0.7"/>
<line x1="1431.45" y1="762.4" x2="1431.45" y2="764.9" stroke="#1a1a1a" stroke-width="1.15" stroke-linecap="butt"/>
<line x1="1425.85" y1="762.95" x2="1437.05" y2="762.95" stroke="#1a1a1a" stroke-width="1.15" stroke-linecap="butt"/>
<rect x="1421.17" y="765.02" width="20.56" height="45.18" fill="url(#pv)" stroke="#1a1a1a" stroke-width="1.55"/>
<line x1="1425.1" y1="765.6" x2="1425.1" y2="809.6" stroke="#686868" stroke-width="0.8" stroke-linecap="butt"/>
<line x1="1429.4" y1="765.6" x2="1429.4" y2="809.6" stroke="#686868" stroke-width="0.8" stroke-linecap="butt"/>
<line x1="1433.75" y1="765.6" x2="1433.75" y2="809.6" stroke="#686868" stroke-width="0.8" stroke-linecap="butt"/>
<line x1="1438.1" y1="765.6" x2="1438.1" y2="809.6" stroke="#9a9a9a" stroke-width="0.8" stroke-linecap="butt"/>
<line x1="1475.2" y1="785.6" x2="1475.2" y2="787.9" stroke="#1a1a1a" stroke-width="1.15" stroke-linecap="butt"/>
<line x1="1469.6" y1="786.15" x2="1480.8" y2="786.15" stroke="#1a1a1a" stroke-width="1.15" stroke-linecap="butt"/>
<rect x="1464.92" y="788.02" width="20.56" height="22.18" fill="url(#pd)" stroke="#1a1a1a" stroke-width="1.55"/>
<line x1="1518.95" y1="780.2" x2="1518.95" y2="784.9" stroke="#1a1a1a" stroke-width="1.15" stroke-linecap="butt"/>
<line x1="1513.35" y1="780.75" x2="1524.55" y2="780.75" stroke="#1a1a1a" stroke-width="1.15" stroke-linecap="butt"/>
<rect x="1508.67" y="785.02" width="20.56" height="25.18" fill="url(#pt)" stroke="#1a1a1a" stroke-width="1.55"/>
<line x1="1562.7" y1="766.4" x2="1562.7" y2="774.9" stroke="#1a1a1a" stroke-width="1.15" stroke-linecap="butt"/>
<line x1="1557.1" y1="766.95" x2="1568.3" y2="766.95" stroke="#1a1a1a" stroke-width="1.15" stroke-linecap="butt"/>
<rect x="1552.42" y="775.02" width="20.56" height="35.18" fill="url(#pb)" stroke="#1a1a1a" stroke-width="1.55"/>
<line x1="1362" y1="810.2" x2="1586.5" y2="810.2" stroke="#1a1a1a" stroke-width="1.6" stroke-linecap="butt"/>
<line x1="1366.2" y1="676.65" x2="1366.2" y2="810.8" stroke="#1a1a1a" stroke-width="1.3" stroke-linecap="butt"/>
<line x1="1361.8" y1="677.2" x2="1366.2" y2="677.2" stroke="#1a1a1a" stroke-width="1.15" stroke-linecap="butt"/>
<text transform="translate(1360.7 681.7) scale(0.935 1)" font-family='"Liberation Sans", sans-serif' font-size="12.4" font-weight="bold" text-anchor="end" stroke="#111" stroke-width="0.2">1.5</text>
<line x1="1361.8" y1="721.6" x2="1366.2" y2="721.6" stroke="#1a1a1a" stroke-width="1.15" stroke-linecap="butt"/>
<text transform="translate(1360.7 726.1) scale(0.935 1)" font-family='"Liberation Sans", sans-serif' font-size="12.4" font-weight="bold" text-anchor="end" stroke="#111" stroke-width="0.2">1.0</text>
<line x1="1361.8" y1="766" x2="1366.2" y2="766" stroke="#1a1a1a" stroke-width="1.15" stroke-linecap="butt"/>
<text transform="translate(1360.7 770.5) scale(0.935 1)" font-family='"Liberation Sans", sans-serif' font-size="12.4" font-weight="bold" text-anchor="end" stroke="#111" stroke-width="0.2">0.5</text>
<line x1="1361.8" y1="810.2" x2="1366.2" y2="810.2" stroke="#1a1a1a" stroke-width="1.15" stroke-linecap="butt"/>
<text transform="translate(1360.7 814.7) scale(0.935 1)" font-family='"Liberation Sans", sans-serif' font-size="12.4" font-weight="bold" text-anchor="end" stroke="#111" stroke-width="0.2">0.0</text>
<text transform="translate(1392 819.2) rotate(-45)" font-family='"Liberation Sans", sans-serif' font-size="12.6" font-weight="bold" text-anchor="end" stroke="#111" stroke-width="0.25">0H</text>
<text transform="translate(1435.75 819.2) rotate(-45)" font-family='"Liberation Sans", sans-serif' font-size="12.6" font-weight="bold" text-anchor="end" stroke="#111" stroke-width="0.25">6H</text>
<text transform="translate(1479.5 819.2) rotate(-45)" font-family='"Liberation Sans", sans-serif' font-size="12.6" font-weight="bold" text-anchor="end" stroke="#111" stroke-width="0.25">12H</text>
<text transform="translate(1523.25 819.2) rotate(-45)" font-family='"Liberation Sans", sans-serif' font-size="12.6" font-weight="bold" text-anchor="end" stroke="#111" stroke-width="0.25">18H</text>
<text transform="translate(1567 819.2) rotate(-45)" font-family='"Liberation Sans", sans-serif' font-size="12.6" font-weight="bold" text-anchor="end" stroke="#111" stroke-width="0.25">24H</text>
<polyline points="1373,721.2 1373,715 1402.2,715 1402.2,721.2" fill="none" stroke="#0a0a0a" stroke-width="1.85" stroke-linecap="round" stroke-linejoin="miter"/>
<polyline points="1387.6,715 1387.6,654 1495.6,654 1495.6,744" fill="none" stroke="#0a0a0a" stroke-width="1.75" stroke-linecap="butt" stroke-linejoin="miter"/>
<polyline points="1417.6,744 1577.6,744" fill="none" stroke="#0a0a0a" stroke-width="1.75" stroke-linecap="butt" stroke-linejoin="miter"/>
<text x="1441.4" y="654.3" font-family='"Liberation Sans", sans-serif' font-size="12.4" font-weight="bold" text-anchor="middle" fill="#1a1a1a">****</text>
</g>
<g transform="translate(0 0.3)">
<text transform="translate(60.6 1016.4) rotate(-90)" font-family='"Liberation Serif", serif' font-size="14.3" font-weight="bold" text-anchor="middle" textLength="183.6" lengthAdjust="spacingAndGlyphs" stroke="#111" stroke-width="0.22">Relative TLR5 mRNA abundance</text>
<rect x="100.82" y="995.82" width="20.56" height="86.58" fill="#d7d9d8" stroke="#1a1a1a" stroke-width="1.55"/>
<rect x="101.8" y="996.8" width="18.6" height="85" fill="none" stroke="#f0f0f0" stroke-width="0.7"/>
<line x1="154.86" y1="988.8" x2="154.86" y2="992.7" stroke="#1a1a1a" stroke-width="1.15" stroke-linecap="butt"/>
<line x1="149.26" y1="989.35" x2="160.46" y2="989.35" stroke="#1a1a1a" stroke-width="1.15" stroke-linecap="butt"/>
<rect x="144.58" y="992.82" width="20.56" height="89.58" fill="url(#pv)" stroke="#1a1a1a" stroke-width="1.55"/>
<line x1="148.51" y1="993.4" x2="148.51" y2="1081.8" stroke="#686868" stroke-width="0.8" stroke-linecap="butt"/>
<line x1="152.81" y1="993.4" x2="152.81" y2="1081.8" stroke="#686868" stroke-width="0.8" stroke-linecap="butt"/>
<line x1="157.16" y1="993.4" x2="157.16" y2="1081.8" stroke="#686868" stroke-width="0.8" stroke-linecap="butt"/>
<line x1="161.51" y1="993.4" x2="161.51" y2="1081.8" stroke="#9a9a9a" stroke-width="0.8" stroke-linecap="butt"/>
<line x1="198.62" y1="987" x2="198.62" y2="992.5" stroke="#1a1a1a" stroke-width="1.15" stroke-linecap="butt"/>
<line x1="193.02" y1="987.55" x2="204.22" y2="987.55" stroke="#1a1a1a" stroke-width="1.15" stroke-linecap="butt"/>
<rect x="188.34" y="992.62" width="20.56" height="89.78" fill="url(#pd)" stroke="#1a1a1a" stroke-width="1.55"/>
<line x1="242.38" y1="987" x2="242.38" y2="992.1" stroke="#1a1a1a" stroke-width="1.15" stroke-linecap="butt"/>
<line x1="236.78" y1="987.55" x2="247.98" y2="987.55" stroke="#1a1a1a" stroke-width="1.15" stroke-linecap="butt"/>
<rect x="232.1" y="992.22" width="20.56" height="90.18" fill="url(#pt)" stroke="#1a1a1a" stroke-width="1.55"/>
<line x1="286.14" y1="986.6" x2="286.14" y2="991.9" stroke="#1a1a1a" stroke-width="1.15" stroke-linecap="butt"/>
<line x1="280.54" y1="987.15" x2="291.74" y2="987.15" stroke="#1a1a1a" stroke-width="1.15" stroke-linecap="butt"/>
<rect x="275.86" y="992.02" width="20.56" height="90.38" fill="url(#pb)" stroke="#1a1a1a" stroke-width="1.55"/>
<line x1="85.6" y1="1082.4" x2="308.6" y2="1082.4" stroke="#1a1a1a" stroke-width="1.6" stroke-linecap="butt"/>
<line x1="89.4" y1="950.25" x2="89.4" y2="1083" stroke="#1a1a1a" stroke-width="1.3" stroke-linecap="butt"/>
<line x1="85" y1="950.8" x2="89.4" y2="950.8" stroke="#1a1a1a" stroke-width="1.15" stroke-linecap="butt"/>
<text transform="translate(83.9 955.3) scale(0.935 1)" font-family='"Liberation Sans", sans-serif' font-size="12.4" font-weight="bold" text-anchor="end" stroke="#111" stroke-width="0.2">1.5</text>
<line x1="85" y1="995" x2="89.4" y2="995" stroke="#1a1a1a" stroke-width="1.15" stroke-linecap="butt"/>
<text transform="translate(83.9 999.5) scale(0.935 1)" font-family='"Liberation Sans", sans-serif' font-size="12.4" font-weight="bold" text-anchor="end" stroke="#111" stroke-width="0.2">1.0</text>
<line x1="85" y1="1038.8" x2="89.4" y2="1038.8" stroke="#1a1a1a" stroke-width="1.15" stroke-linecap="butt"/>
<text transform="translate(83.9 1043.3) scale(0.935 1)" font-family='"Liberation Sans", sans-serif' font-size="12.4" font-weight="bold" text-anchor="end" stroke="#111" stroke-width="0.2">0.5</text>
<line x1="85" y1="1082.4" x2="89.4" y2="1082.4" stroke="#1a1a1a" stroke-width="1.15" stroke-linecap="butt"/>
<text transform="translate(83.9 1086.9) scale(0.935 1)" font-family='"Liberation Sans", sans-serif' font-size="12.4" font-weight="bold" text-anchor="end" stroke="#111" stroke-width="0.2">0.0</text>
<text transform="translate(115.4 1091.4) rotate(-45)" font-family='"Liberation Sans", sans-serif' font-size="12.6" font-weight="bold" text-anchor="end" stroke="#111" stroke-width="0.25">0H</text>
<text transform="translate(159.16 1091.4) rotate(-45)" font-family='"Liberation Sans", sans-serif' font-size="12.6" font-weight="bold" text-anchor="end" stroke="#111" stroke-width="0.25">6H</text>
<text transform="translate(202.92 1091.4) rotate(-45)" font-family='"Liberation Sans", sans-serif' font-size="12.6" font-weight="bold" text-anchor="end" stroke="#111" stroke-width="0.25">12H</text>
<text transform="translate(246.68 1091.4) rotate(-45)" font-family='"Liberation Sans", sans-serif' font-size="12.6" font-weight="bold" text-anchor="end" stroke="#111" stroke-width="0.25">18H</text>
<text transform="translate(290.44 1091.4) rotate(-45)" font-family='"Liberation Sans", sans-serif' font-size="12.6" font-weight="bold" text-anchor="end" stroke="#111" stroke-width="0.25">24H</text>
<polyline points="98.8,991.2 98.8,985.4 123.6,985.4 123.6,991.2" fill="none" stroke="#0a0a0a" stroke-width="1.85" stroke-linecap="round" stroke-linejoin="miter"/>
<polyline points="111.5,985.4 111.5,929.2 224.4,929.2 224.4,978.8" fill="none" stroke="#0a0a0a" stroke-width="1.75" stroke-linecap="butt" stroke-linejoin="miter"/>
<polyline points="142,978.8 300.8,978.8" fill="none" stroke="#0a0a0a" stroke-width="1.75" stroke-linecap="butt" stroke-linejoin="miter"/>
<text x="169.2" y="925" font-family='"Liberation Sans", sans-serif' font-size="10.6" font-weight="normal" text-anchor="middle" fill="#333">ns</text>
</g>
<g transform="translate(0 0.3)">
<text transform="translate(379.9 1013.7) rotate(-90)" font-family='"Liberation Serif", serif' font-size="14.3" font-weight="bold" text-anchor="middle" textLength="185.4" lengthAdjust="spacingAndGlyphs" stroke="#111" stroke-width="0.22">Relative TLR5 mRNA abundance</text>
<rect x="420.02" y="992.82" width="20.56" height="88.18" fill="#d7d9d8" stroke="#1a1a1a" stroke-width="1.55"/>
<rect x="421" y="993.8" width="18.6" height="86.6" fill="none" stroke="#f0f0f0" stroke-width="0.7"/>
<line x1="474.02" y1="986.6" x2="474.02" y2="991.1" stroke="#1a1a1a" stroke-width="1.15" stroke-linecap="butt"/>
<line x1="468.42" y1="987.15" x2="479.62" y2="987.15" stroke="#1a1a1a" stroke-width="1.15" stroke-linecap="butt"/>
<rect x="463.74" y="991.22" width="20.56" height="89.78" fill="url(#pv)" stroke="#1a1a1a" stroke-width="1.55"/>
<line x1="467.67" y1="991.8" x2="467.67" y2="1080.4" stroke="#686868" stroke-width="0.8" stroke-linecap="butt"/>
<line x1="471.97" y1="991.8" x2="471.97" y2="1080.4" stroke="#686868" stroke-width="0.8" stroke-linecap="butt"/>
<line x1="476.32" y1="991.8" x2="476.32" y2="1080.4" stroke="#686868" stroke-width="0.8" stroke-linecap="butt"/>
<line x1="480.67" y1="991.8" x2="480.67" y2="1080.4" stroke="#9a9a9a" stroke-width="0.8" stroke-linecap="butt"/>
<line x1="517.74" y1="1056.8" x2="517.74" y2="1060.3" stroke="#1a1a1a" stroke-width="1.15" stroke-linecap="butt"/>
<line x1="512.14" y1="1057.35" x2="523.34" y2="1057.35" stroke="#1a1a1a" stroke-width="1.15" stroke-linecap="butt"/>
<rect x="507.46" y="1060.42" width="20.56" height="20.58" fill="url(#pd)" stroke="#1a1a1a" stroke-width="1.55"/>
<line x1="561.46" y1="1058.4" x2="561.46" y2="1061.1" stroke="#1a1a1a" stroke-width="1.15" stroke-linecap="butt"/>
<line x1="555.86" y1="1058.95" x2="567.06" y2="1058.95" stroke="#1a1a1a" stroke-width="1.15" stroke-linecap="butt"/>
<rect x="551.18" y="1061.22" width="20.56" height="19.78" fill="url(#pt)" stroke="#1a1a1a" stroke-width="1.55"/>
<line x1="605.18" y1="1058.4" x2="605.18" y2="1060.7" stroke="#1a1a1a" stroke-width="1.15" stroke-linecap="butt"/>
<line x1="599.58" y1="1058.95" x2="610.78" y2="1058.95" stroke="#1a1a1a" stroke-width="1.15" stroke-linecap="butt"/>
<rect x="594.9" y="1060.82" width="20.56" height="20.18" fill="url(#pb)" stroke="#1a1a1a" stroke-width="1.55"/>
<line x1="404.4" y1="1081" x2="628" y2="1081" stroke="#1a1a1a" stroke-width="1.6" stroke-linecap="butt"/>
<line x1="408.6" y1="946.45" x2="408.6" y2="1081.6" stroke="#1a1a1a" stroke-width="1.3" stroke-linecap="butt"/>
<line x1="404.2" y1="947" x2="408.6" y2="947" stroke="#1a1a1a" stroke-width="1.15" stroke-linecap="butt"/>
<text transform="translate(403.1 951.5) scale(0.935 1)" font-family='"Liberation Sans", sans-serif' font-size="12.4" font-weight="bold" text-anchor="end" stroke="#111" stroke-width="0.2">1.5</text>
<line x1="404.2" y1="991.8" x2="408.6" y2="991.8" stroke="#1a1a1a" stroke-width="1.15" stroke-linecap="butt"/>
<text transform="translate(403.1 996.3) scale(0.935 1)" font-family='"Liberation Sans", sans-serif' font-size="12.4" font-weight="bold" text-anchor="end" stroke="#111" stroke-width="0.2">1.0</text>
<line x1="404.2" y1="1036.4" x2="408.6" y2="1036.4" stroke="#1a1a1a" stroke-width="1.15" stroke-linecap="butt"/>
<text transform="translate(403.1 1040.9) scale(0.935 1)" font-family='"Liberation Sans", sans-serif' font-size="12.4" font-weight="bold" text-anchor="end" stroke="#111" stroke-width="0.2">0.5</text>
<line x1="404.2" y1="1081" x2="408.6" y2="1081" stroke="#1a1a1a" stroke-width="1.15" stroke-linecap="butt"/>
<text transform="translate(403.1 1085.5) scale(0.935 1)" font-family='"Liberation Sans", sans-serif' font-size="12.4" font-weight="bold" text-anchor="end" stroke="#111" stroke-width="0.2">0.0</text>
<text transform="translate(434.6 1090) rotate(-45)" font-family='"Liberation Sans", sans-serif' font-size="12.6" font-weight="bold" text-anchor="end" stroke="#111" stroke-width="0.25">0H</text>
<text transform="translate(478.32 1090) rotate(-45)" font-family='"Liberation Sans", sans-serif' font-size="12.6" font-weight="bold" text-anchor="end" stroke="#111" stroke-width="0.25">6H</text>
<text transform="translate(522.04 1090) rotate(-45)" font-family='"Liberation Sans", sans-serif' font-size="12.6" font-weight="bold" text-anchor="end" stroke="#111" stroke-width="0.25">12H</text>
<text transform="translate(565.76 1090) rotate(-45)" font-family='"Liberation Sans", sans-serif' font-size="12.6" font-weight="bold" text-anchor="end" stroke="#111" stroke-width="0.25">18H</text>
<text transform="translate(609.48 1090) rotate(-45)" font-family='"Liberation Sans", sans-serif' font-size="12.6" font-weight="bold" text-anchor="end" stroke="#111" stroke-width="0.25">24H</text>
<polyline points="416.8,991.6 416.8,985.6 444.2,985.6 444.2,991.6" fill="none" stroke="#0a0a0a" stroke-width="1.85" stroke-linecap="round" stroke-linejoin="miter"/>
<polyline points="430.6,985.6 430.6,922.8" fill="none" stroke="#0a0a0a" stroke-width="1.95" stroke-linecap="butt" stroke-linejoin="miter"/>
<polyline points="429.6,923.8 561,923.8 561,1047.6" fill="none" stroke="#0a0a0a" stroke-width="1.95" stroke-linecap="butt" stroke-linejoin="miter"/>
<polyline points="503.4,1047.6 619.6,1047.6" fill="none" stroke="#0a0a0a" stroke-width="1.95" stroke-linecap="butt" stroke-linejoin="miter"/>
<polyline points="430.6,956.2 474.2,956.2 474.2,981" fill="none" stroke="#0a0a0a" stroke-width="1.95" stroke-linecap="butt" stroke-linejoin="miter"/>
<text x="494.6" y="924.9" font-family='"Liberation Sans", sans-serif' font-size="12.4" font-weight="bold" text-anchor="middle" fill="#1a1a1a">****</text>
<text x="454.2" y="952.8" font-family='"Liberation Sans", sans-serif' font-size="10.6" font-weight="normal" text-anchor="middle" fill="#333">ns</text>
</g>
<g transform="translate(0 0.3)">
<text transform="translate(699.2 1013.8) rotate(-90)" font-family='"Liberation Serif", serif' font-size="14.3" font-weight="bold" text-anchor="middle" textLength="185.6" lengthAdjust="spacingAndGlyphs" stroke="#111" stroke-width="0.22">Relative TLR5 mRNA abundance</text>
<rect x="739.22" y="993.42" width="20.56" height="87.98" fill="#d7d9d8" stroke="#1a1a1a" stroke-width="1.55"/>
<rect x="740.2" y="994.4" width="18.6" height="86.4" fill="none" stroke="#f0f0f0" stroke-width="0.7"/>
<line x1="793.18" y1="1001.2" x2="793.18" y2="1011.9" stroke="#1a1a1a" stroke-width="1.15" stroke-linecap="butt"/>
<line x1="787.58" y1="1001.75" x2="798.78" y2="1001.75" stroke="#1a1a1a" stroke-width="1.15" stroke-linecap="butt"/>
<rect x="782.9" y="1012.02" width="20.56" height="69.38" fill="url(#pv)" stroke="#1a1a1a" stroke-width="1.55"/>
<line x1="786.83" y1="1012.6" x2="786.83" y2="1080.8" stroke="#686868" stroke-width="0.8" stroke-linecap="butt"/>
<line x1="791.13" y1="1012.6" x2="791.13" y2="1080.8" stroke="#686868" stroke-width="0.8" stroke-linecap="butt"/>
<line x1="795.48" y1="1012.6" x2="795.48" y2="1080.8" stroke="#686868" stroke-width="0.8" stroke-linecap="butt"/>
<line x1="799.83" y1="1012.6" x2="799.83" y2="1080.8" stroke="#9a9a9a" stroke-width="0.8" stroke-linecap="butt"/>
<line x1="836.86" y1="1058.4" x2="836.86" y2="1060.9" stroke="#1a1a1a" stroke-width="1.15" stroke-linecap="butt"/>
<line x1="831.26" y1="1058.95" x2="842.46" y2="1058.95" stroke="#1a1a1a" stroke-width="1.15" stroke-linecap="butt"/>
<rect x="826.58" y="1061.02" width="20.56" height="20.38" fill="url(#pd)" stroke="#1a1a1a" stroke-width="1.55"/>
<line x1="880.54" y1="1051.6" x2="880.54" y2="1056.7" stroke="#1a1a1a" stroke-width="1.15" stroke-linecap="butt"/>
<line x1="874.94" y1="1052.15" x2="886.14" y2="1052.15" stroke="#1a1a1a" stroke-width="1.15" stroke-linecap="butt"/>
<rect x="870.26" y="1056.82" width="20.56" height="24.58" fill="url(#pt)" stroke="#1a1a1a" stroke-width="1.55"/>
<line x1="924.22" y1="1055.2" x2="924.22" y2="1060.7" stroke="#1a1a1a" stroke-width="1.15" stroke-linecap="butt"/>
<line x1="918.62" y1="1055.75" x2="929.82" y2="1055.75" stroke="#1a1a1a" stroke-width="1.15" stroke-linecap="butt"/>
<rect x="913.94" y="1060.82" width="20.56" height="20.58" fill="url(#pb)" stroke="#1a1a1a" stroke-width="1.55"/>
<line x1="724" y1="1081.4" x2="947.6" y2="1081.4" stroke="#1a1a1a" stroke-width="1.6" stroke-linecap="butt"/>
<line x1="728.2" y1="946.85" x2="728.2" y2="1082" stroke="#1a1a1a" stroke-width="1.3" stroke-linecap="butt"/>
<line x1="723.8" y1="947.4" x2="728.2" y2="947.4" stroke="#1a1a1a" stroke-width="1.15" stroke-linecap="butt"/>
<text transform="translate(722.7 951.9) scale(0.935 1)" font-family='"Liberation Sans", sans-serif' font-size="12.4" font-weight="bold" text-anchor="end" stroke="#111" stroke-width="0.2">1.5</text>
<line x1="723.8" y1="992.2" x2="728.2" y2="992.2" stroke="#1a1a1a" stroke-width="1.15" stroke-linecap="butt"/>
<text transform="translate(722.7 996.7) scale(0.935 1)" font-family='"Liberation Sans", sans-serif' font-size="12.4" font-weight="bold" text-anchor="end" stroke="#111" stroke-width="0.2">1.0</text>
<line x1="723.8" y1="1037" x2="728.2" y2="1037" stroke="#1a1a1a" stroke-width="1.15" stroke-linecap="butt"/>
<text transform="translate(722.7 1041.5) scale(0.935 1)" font-family='"Liberation Sans", sans-serif' font-size="12.4" font-weight="bold" text-anchor="end" stroke="#111" stroke-width="0.2">0.5</text>
<line x1="723.8" y1="1081.4" x2="728.2" y2="1081.4" stroke="#1a1a1a" stroke-width="1.15" stroke-linecap="butt"/>
<text transform="translate(722.7 1085.9) scale(0.935 1)" font-family='"Liberation Sans", sans-serif' font-size="12.4" font-weight="bold" text-anchor="end" stroke="#111" stroke-width="0.2">0.0</text>
<text transform="translate(753.8 1090.4) rotate(-45)" font-family='"Liberation Sans", sans-serif' font-size="12.6" font-weight="bold" text-anchor="end" stroke="#111" stroke-width="0.25">0H</text>
<text transform="translate(797.48 1090.4) rotate(-45)" font-family='"Liberation Sans", sans-serif' font-size="12.6" font-weight="bold" text-anchor="end" stroke="#111" stroke-width="0.25">6H</text>
<text transform="translate(841.16 1090.4) rotate(-45)" font-family='"Liberation Sans", sans-serif' font-size="12.6" font-weight="bold" text-anchor="end" stroke="#111" stroke-width="0.25">12H</text>
<text transform="translate(884.84 1090.4) rotate(-45)" font-family='"Liberation Sans", sans-serif' font-size="12.6" font-weight="bold" text-anchor="end" stroke="#111" stroke-width="0.25">18H</text>
<text transform="translate(928.52 1090.4) rotate(-45)" font-family='"Liberation Sans", sans-serif' font-size="12.6" font-weight="bold" text-anchor="end" stroke="#111" stroke-width="0.25">24H</text>
<polyline points="736.2,991.2 736.2,985 763,985 763,991.2" fill="none" stroke="#0a0a0a" stroke-width="1.85" stroke-linecap="round" stroke-linejoin="miter"/>
<polyline points="749.4,985 749.4,923.2" fill="none" stroke="#0a0a0a" stroke-width="1.95" stroke-linecap="butt" stroke-linejoin="miter"/>
<polyline points="748.4,924.2 877.6,924.2 877.6,1038.8" fill="none" stroke="#0a0a0a" stroke-width="1.95" stroke-linecap="butt" stroke-linejoin="miter"/>
<polyline points="822.6,1038.8 941,1038.8" fill="none" stroke="#0a0a0a" stroke-width="1.95" stroke-linecap="butt" stroke-linejoin="miter"/>
<polyline points="749.4,954.6 793,954.6 793,997.2" fill="none" stroke="#0a0a0a" stroke-width="1.95" stroke-linecap="butt" stroke-linejoin="miter"/>
<text x="811.4" y="925.1" font-family='"Liberation Sans", sans-serif' font-size="12.4" font-weight="bold" text-anchor="middle" fill="#1a1a1a">****</text>
<text x="771.8" y="955.3" font-family='"Liberation Sans", sans-serif' font-size="12.4" font-weight="bold" text-anchor="middle" fill="#1a1a1a">*</text>
</g>
<g transform="translate(0 0.3)">
<text transform="translate(1018.2 1015.6) rotate(-90)" font-family='"Liberation Serif", serif' font-size="14.3" font-weight="bold" text-anchor="middle" textLength="184" lengthAdjust="spacingAndGlyphs" stroke="#111" stroke-width="0.22">Relative TLR5 mRNA abundance</text>
<rect x="1058.52" y="995.42" width="20.56" height="86.58" fill="#d7d9d8" stroke="#1a1a1a" stroke-width="1.55"/>
<rect x="1059.5" y="996.4" width="18.6" height="85" fill="none" stroke="#f0f0f0" stroke-width="0.7"/>
<line x1="1112.42" y1="1019.6" x2="1112.42" y2="1023.5" stroke="#1a1a1a" stroke-width="1.15" stroke-linecap="butt"/>
<line x1="1106.82" y1="1020.15" x2="1118.02" y2="1020.15" stroke="#1a1a1a" stroke-width="1.15" stroke-linecap="butt"/>
<rect x="1102.14" y="1023.62" width="20.56" height="58.38" fill="url(#pv)" stroke="#1a1a1a" stroke-width="1.55"/>
<line x1="1106.07" y1="1024.2" x2="1106.07" y2="1081.4" stroke="#686868" stroke-width="0.8" stroke-linecap="butt"/>
<line x1="1110.37" y1="1024.2" x2="1110.37" y2="1081.4" stroke="#686868" stroke-width="0.8" stroke-linecap="butt"/>
<line x1="1114.72" y1="1024.2" x2="1114.72" y2="1081.4" stroke="#686868" stroke-width="0.8" stroke-linecap="butt"/>
<line x1="1119.07" y1="1024.2" x2="1119.07" y2="1081.4" stroke="#9a9a9a" stroke-width="0.8" stroke-linecap="butt"/>
<line x1="1156.04" y1="1067.8" x2="1156.04" y2="1069.9" stroke="#1a1a1a" stroke-width="1.15" stroke-linecap="butt"/>
<line x1="1150.44" y1="1068.35" x2="1161.64" y2="1068.35" stroke="#1a1a1a" stroke-width="1.15" stroke-linecap="butt"/>
<rect x="1145.76" y="1070.02" width="20.56" height="11.98" fill="url(#pd)" stroke="#1a1a1a" stroke-width="1.55"/>
<line x1="1199.66" y1="1053.4" x2="1199.66" y2="1059.5" stroke="#1a1a1a" stroke-width="1.15" stroke-linecap="butt"/>
<line x1="1194.06" y1="1053.95" x2="1205.26" y2="1053.95" stroke="#1a1a1a" stroke-width="1.15" stroke-linecap="butt"/>
<rect x="1189.38" y="1059.62" width="20.56" height="22.38" fill="url(#pt)" stroke="#1a1a1a" stroke-width="1.55"/>
<line x1="1243.28" y1="1058.6" x2="1243.28" y2="1063.9" stroke="#1a1a1a" stroke-width="1.15" stroke-linecap="butt"/>
<line x1="1237.68" y1="1059.15" x2="1248.88" y2="1059.15" stroke="#1a1a1a" stroke-width="1.15" stroke-linecap="butt"/>
<rect x="1233" y="1064.02" width="20.56" height="17.98" fill="url(#pb)" stroke="#1a1a1a" stroke-width="1.55"/>
<line x1="1043.2" y1="1082" x2="1266.3" y2="1082" stroke="#1a1a1a" stroke-width="1.6" stroke-linecap="butt"/>
<line x1="1047.1" y1="949.45" x2="1047.1" y2="1082.6" stroke="#1a1a1a" stroke-width="1.3" stroke-linecap="butt"/>
<line x1="1042.7" y1="950" x2="1047.1" y2="950" stroke="#1a1a1a" stroke-width="1.15" stroke-linecap="butt"/>
<text transform="translate(1041.6 954.5) scale(0.935 1)" font-family='"Liberation Sans", sans-serif' font-size="12.4" font-weight="bold" text-anchor="end" stroke="#111" stroke-width="0.2">1.5</text>
<line x1="1042.7" y1="994.2" x2="1047.1" y2="994.2" stroke="#1a1a1a" stroke-width="1.15" stroke-linecap="butt"/>
<text transform="translate(1041.6 998.7) scale(0.935 1)" font-family='"Liberation Sans", sans-serif' font-size="12.4" font-weight="bold" text-anchor="end" stroke="#111" stroke-width="0.2">1.0</text>
<line x1="1042.7" y1="1038.2" x2="1047.1" y2="1038.2" stroke="#1a1a1a" stroke-width="1.15" stroke-linecap="butt"/>
<text transform="translate(1041.6 1042.7) scale(0.935 1)" font-family='"Liberation Sans", sans-serif' font-size="12.4" font-weight="bold" text-anchor="end" stroke="#111" stroke-width="0.2">0.5</text>
<line x1="1042.7" y1="1082" x2="1047.1" y2="1082" stroke="#1a1a1a" stroke-width="1.15" stroke-linecap="butt"/>
<text transform="translate(1041.6 1086.5) scale(0.935 1)" font-family='"Liberation Sans", sans-serif' font-size="12.4" font-weight="bold" text-anchor="end" stroke="#111" stroke-width="0.2">0.0</text>
<text transform="translate(1073.1 1091) rotate(-45)" font-family='"Liberation Sans", sans-serif' font-size="12.6" font-weight="bold" text-anchor="end" stroke="#111" stroke-width="0.25">0H</text>
<text transform="translate(1116.72 1091) rotate(-45)" font-family='"Liberation Sans", sans-serif' font-size="12.6" font-weight="bold" text-anchor="end" stroke="#111" stroke-width="0.25">6H</text>
<text transform="translate(1160.34 1091) rotate(-45)" font-family='"Liberation Sans", sans-serif' font-size="12.6" font-weight="bold" text-anchor="end" stroke="#111" stroke-width="0.25">12H</text>
<text transform="translate(1203.96 1091) rotate(-45)" font-family='"Liberation Sans", sans-serif' font-size="12.6" font-weight="bold" text-anchor="end" stroke="#111" stroke-width="0.25">18H</text>
<text transform="translate(1247.58 1091) rotate(-45)" font-family='"Liberation Sans", sans-serif' font-size="12.6" font-weight="bold" text-anchor="end" stroke="#111" stroke-width="0.25">24H</text>
<polyline points="1054.6,992.4 1054.6,986.4 1082,986.4 1082,992.4" fill="none" stroke="#0a0a0a" stroke-width="1.85" stroke-linecap="round" stroke-linejoin="miter"/>
<polyline points="1068.6,986.4 1068.6,925 1175.4,925 1175.4,1005.6" fill="none" stroke="#0a0a0a" stroke-width="1.75" stroke-linecap="butt" stroke-linejoin="miter"/>
<polyline points="1096.8,1005.6 1258,1005.6" fill="none" stroke="#0a0a0a" stroke-width="1.75" stroke-linecap="butt" stroke-linejoin="miter"/>
<text x="1120.6" y="925.3" font-family='"Liberation Sans", sans-serif' font-size="12.4" font-weight="bold" text-anchor="middle" fill="#1a1a1a">****</text>
</g>
<g transform="translate(0 0.3)">
<text transform="translate(1337.6 1015.2) rotate(-90)" font-family='"Liberation Serif", serif' font-size="14.3" font-weight="bold" text-anchor="middle" textLength="184.4" lengthAdjust="spacingAndGlyphs" stroke="#111" stroke-width="0.22">Relative TLR5 mRNA abundance</text>
<rect x="1377.42" y="995.02" width="20.56" height="86.98" fill="#d7d9d8" stroke="#1a1a1a" stroke-width="1.55"/>
<rect x="1378.4" y="996" width="18.6" height="85.4" fill="none" stroke="#f0f0f0" stroke-width="0.7"/>
<line x1="1431.45" y1="1014.4" x2="1431.45" y2="1023.1" stroke="#1a1a1a" stroke-width="1.15" stroke-linecap="butt"/>
<line x1="1425.85" y1="1014.95" x2="1437.05" y2="1014.95" stroke="#1a1a1a" stroke-width="1.15" stroke-linecap="butt"/>
<rect x="1421.17" y="1023.22" width="20.56" height="58.78" fill="url(#pv)" stroke="#1a1a1a" stroke-width="1.55"/>
<line x1="1425.1" y1="1023.8" x2="1425.1" y2="1081.4" stroke="#686868" stroke-width="0.8" stroke-linecap="butt"/>
<line x1="1429.4" y1="1023.8" x2="1429.4" y2="1081.4" stroke="#686868" stroke-width="0.8" stroke-linecap="butt"/>
<line x1="1433.75" y1="1023.8" x2="1433.75" y2="1081.4" stroke="#686868" stroke-width="0.8" stroke-linecap="butt"/>
<line x1="1438.1" y1="1023.8" x2="1438.1" y2="1081.4" stroke="#9a9a9a" stroke-width="0.8" stroke-linecap="butt"/>
<line x1="1475.2" y1="1065.8" x2="1475.2" y2="1068.9" stroke="#1a1a1a" stroke-width="1.15" stroke-linecap="butt"/>
<line x1="1469.6" y1="1066.35" x2="1480.8" y2="1066.35" stroke="#1a1a1a" stroke-width="1.15" stroke-linecap="butt"/>
<rect x="1464.92" y="1069.02" width="20.56" height="12.98" fill="url(#pd)" stroke="#1a1a1a" stroke-width="1.55"/>
<line x1="1518.95" y1="1055.6" x2="1518.95" y2="1062.9" stroke="#1a1a1a" stroke-width="1.15" stroke-linecap="butt"/>
<line x1="1513.35" y1="1056.15" x2="1524.55" y2="1056.15" stroke="#1a1a1a" stroke-width="1.15" stroke-linecap="butt"/>
<rect x="1508.67" y="1063.02" width="20.56" height="18.98" fill="url(#pt)" stroke="#1a1a1a" stroke-width="1.55"/>
<line x1="1562.7" y1="1060.4" x2="1562.7" y2="1061.7" stroke="#1a1a1a" stroke-width="1.15" stroke-linecap="butt"/>
<line x1="1557.1" y1="1060.95" x2="1568.3" y2="1060.95" stroke="#1a1a1a" stroke-width="1.15" stroke-linecap="butt"/>
<rect x="1552.42" y="1061.82" width="20.56" height="20.18" fill="url(#pb)" stroke="#1a1a1a" stroke-width="1.55"/>
<line x1="1362" y1="1082" x2="1586.5" y2="1082" stroke="#1a1a1a" stroke-width="1.6" stroke-linecap="butt"/>
<line x1="1366.2" y1="949.05" x2="1366.2" y2="1082.6" stroke="#1a1a1a" stroke-width="1.3" stroke-linecap="butt"/>
<line x1="1361.8" y1="949.6" x2="1366.2" y2="949.6" stroke="#1a1a1a" stroke-width="1.15" stroke-linecap="butt"/>
<text transform="translate(1360.7 954.1) scale(0.935 1)" font-family='"Liberation Sans", sans-serif' font-size="12.4" font-weight="bold" text-anchor="end" stroke="#111" stroke-width="0.2">1.5</text>
<line x1="1361.8" y1="994" x2="1366.2" y2="994" stroke="#1a1a1a" stroke-width="1.15" stroke-linecap="butt"/>
<text transform="translate(1360.7 998.5) scale(0.935 1)" font-family='"Liberation Sans", sans-serif' font-size="12.4" font-weight="bold" text-anchor="end" stroke="#111" stroke-width="0.2">1.0</text>
<line x1="1361.8" y1="1038.2" x2="1366.2" y2="1038.2" stroke="#1a1a1a" stroke-width="1.15" stroke-linecap="butt"/>
<text transform="translate(1360.7 1042.7) scale(0.935 1)" font-family='"Liberation Sans", sans-serif' font-size="12.4" font-weight="bold" text-anchor="end" stroke="#111" stroke-width="0.2">0.5</text>
<line x1="1361.8" y1="1082" x2="1366.2" y2="1082" stroke="#1a1a1a" stroke-width="1.15" stroke-linecap="butt"/>
<text transform="translate(1360.7 1086.5) scale(0.935 1)" font-family='"Liberation Sans", sans-serif' font-size="12.4" font-weight="bold" text-anchor="end" stroke="#111" stroke-width="0.2">0.0</text>
<text transform="translate(1392 1091) rotate(-45)" font-family='"Liberation Sans", sans-serif' font-size="12.6" font-weight="bold" text-anchor="end" stroke="#111" stroke-width="0.25">0H</text>
<text transform="translate(1435.75 1091) rotate(-45)" font-family='"Liberation Sans", sans-serif' font-size="12.6" font-weight="bold" text-anchor="end" stroke="#111" stroke-width="0.25">6H</text>
<text transform="translate(1479.5 1091) rotate(-45)" font-family='"Liberation Sans", sans-serif' font-size="12.6" font-weight="bold" text-anchor="end" stroke="#111" stroke-width="0.25">12H</text>
<text transform="translate(1523.25 1091) rotate(-45)" font-family='"Liberation Sans", sans-serif' font-size="12.6" font-weight="bold" text-anchor="end" stroke="#111" stroke-width="0.25">18H</text>
<text transform="translate(1567 1091) rotate(-45)" font-family='"Liberation Sans", sans-serif' font-size="12.6" font-weight="bold" text-anchor="end" stroke="#111" stroke-width="0.25">24H</text>
<polyline points="1373.2,992.4 1373.2,986.4 1402.4,986.4 1402.4,992.4" fill="none" stroke="#0a0a0a" stroke-width="1.85" stroke-linecap="round" stroke-linejoin="miter"/>
<polyline points="1388.6,986.4 1388.6,925.4" fill="none" stroke="#0a0a0a" stroke-width="1.95" stroke-linecap="butt" stroke-linejoin="miter"/>
<polyline points="1387.6,926.4 1516,926.4 1516,1041.6" fill="none" stroke="#0a0a0a" stroke-width="1.95" stroke-linecap="butt" stroke-linejoin="miter"/>
<polyline points="1460.4,1041.6 1583.8,1041.6" fill="none" stroke="#0a0a0a" stroke-width="1.95" stroke-linecap="butt" stroke-linejoin="miter"/>
<polyline points="1388.6,956 1430.4,956 1430.4,1008.4" fill="none" stroke="#0a0a0a" stroke-width="1.95" stroke-linecap="butt" stroke-linejoin="miter"/>
<text x="1451" y="926.1" font-family='"Liberation Sans", sans-serif' font-size="12.4" font-weight="bold" text-anchor="middle" fill="#1a1a1a">****</text>
<text x="1410.8" y="955.9" font-family='"Liberation Sans", sans-serif' font-size="12.4" font-weight="bold" text-anchor="middle" fill="#1a1a1a">**</text>
</g>
</svg>
</body>
</html>
